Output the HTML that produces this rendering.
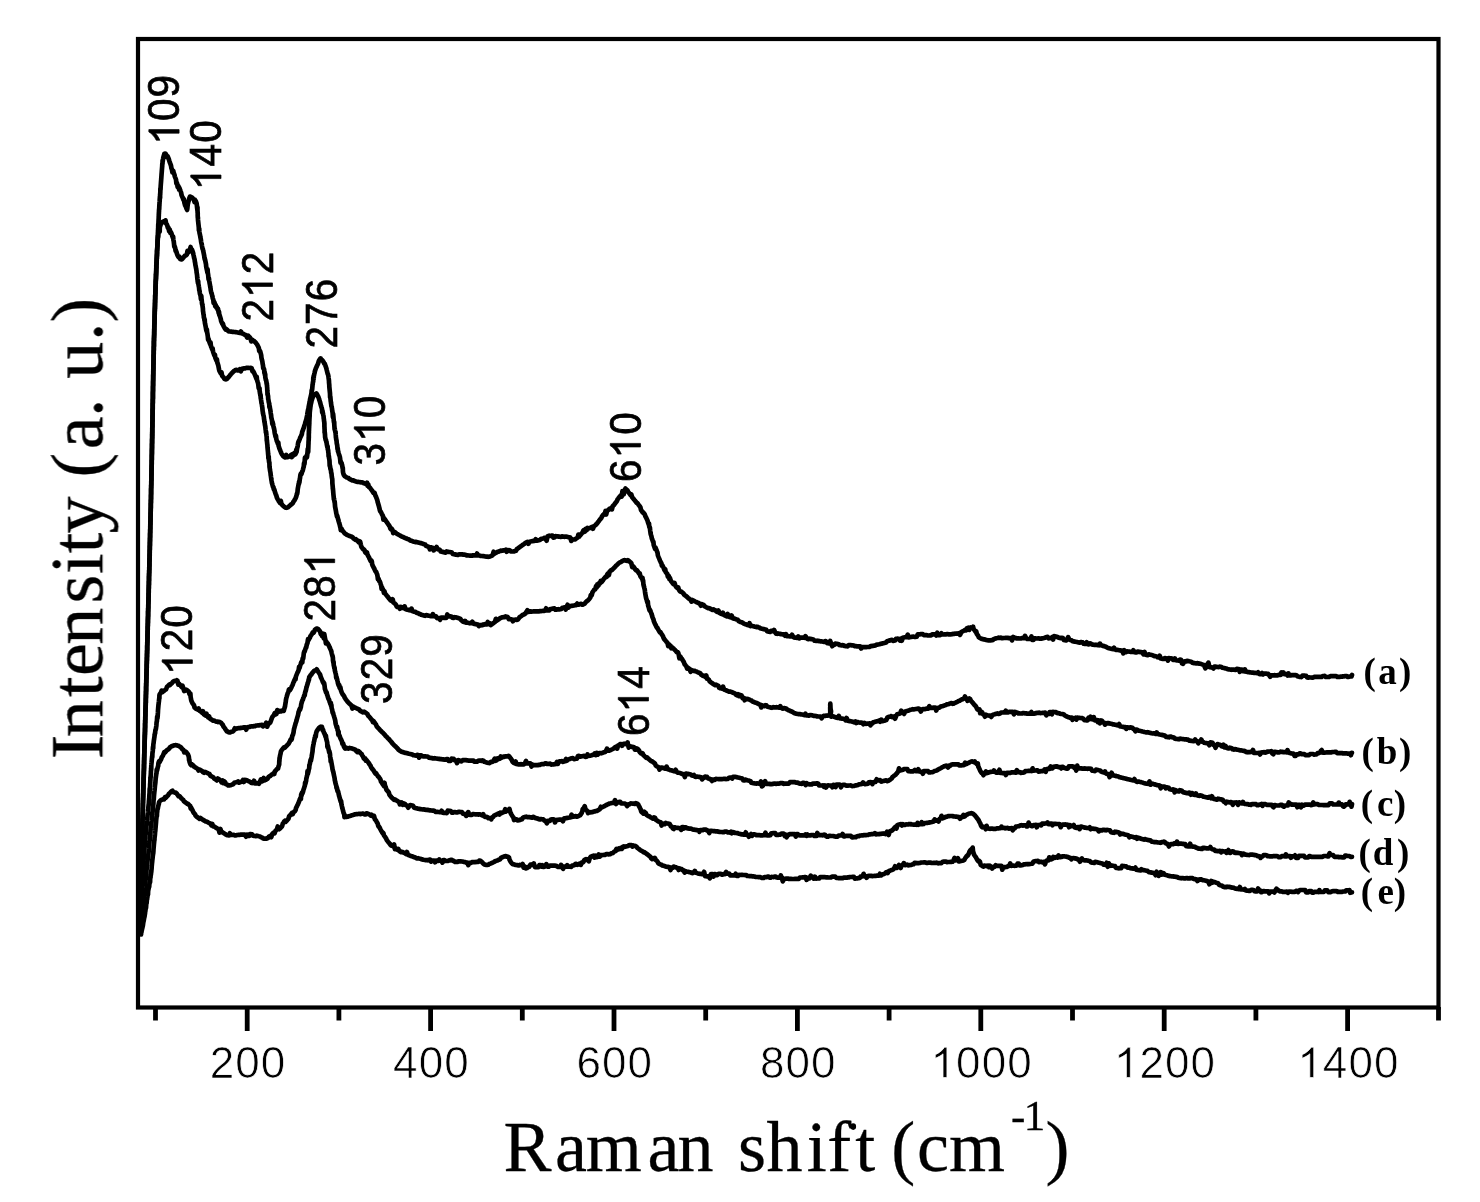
<!DOCTYPE html>
<html><head><meta charset="utf-8"><style>
html,body{margin:0;padding:0;background:#fff;}
body{width:1480px;height:1202px;overflow:hidden;}
svg{display:block;}
.sans{font-family:"Liberation Sans",sans-serif;font-size:44px;fill:#000;}
.pk{stroke:#000;stroke-width:0.7px;}
.tk{stroke:#fff;stroke-width:0.7px;}
.serif{font-family:"Liberation Serif",serif;font-size:72px;fill:#000;stroke:#000;stroke-width:0.3px;}
.lab{font-family:"Liberation Serif",serif;font-size:37px;font-weight:bold;fill:#000;}
</style></head><body>
<svg width="1480" height="1202" viewBox="0 0 1480 1202">
<defs><filter id="bl" x="0" y="0" width="100%" height="100%" filterUnits="userSpaceOnUse"><feGaussianBlur stdDeviation="0.7"/></filter></defs>
<rect x="0" y="0" width="1480" height="1202" fill="#fff"/>
<g filter="url(#bl)">
<g fill="none" stroke="#000" stroke-width="4.7" stroke-linejoin="round" stroke-linecap="round">
<polyline points="139.5,929.3 139.5,928.8 139.5,928.3 139.5,927.7 139.6,927.2 139.6,927.6 139.6,927.1 139.6,926.6 139.6,926.0 139.6,925.5 139.6,924.9 139.7,925.7 139.7,925.1 139.7,924.6 139.7,922.7 139.7,923.4 139.7,921.6 139.8,921.0 139.8,920.4 139.8,919.0 139.8,918.4 139.8,917.8 139.8,917.3 139.9,916.7 139.9,916.0 139.9,915.4 139.9,916.4 139.9,914.3 139.9,913.7 140.0,913.4 140.0,912.8 140.0,912.7 140.0,912.0 140.0,909.9 140.1,909.2 140.1,908.6 140.1,907.9 140.1,908.4 140.1,906.8 140.2,906.1 140.2,905.4 140.2,904.6 140.2,905.3 140.2,902.4 140.3,901.6 140.3,900.9 140.3,900.5 140.3,899.7 140.3,899.0 140.4,898.2 140.4,897.4 140.4,897.0 140.4,896.2 140.4,894.8 140.5,894.0 140.5,893.2 140.5,892.4 140.5,891.6 140.6,890.7 140.6,888.1 140.6,889.3 140.6,889.2 140.6,888.4 140.7,887.5 140.7,886.7 140.7,885.8 140.7,885.0 140.8,883.0 140.8,882.2 140.8,881.3 140.8,880.4 140.9,880.7 140.9,879.8 140.9,879.0 140.9,878.1 141.0,877.2 141.0,876.3 141.0,876.3 141.0,875.4 141.1,874.5 141.1,872.5 141.1,871.5 141.1,870.6 141.2,869.7 141.2,868.8 141.2,867.8 141.2,866.1 141.3,865.1 141.3,864.0 141.3,864.8 141.3,860.5 141.4,860.2 141.4,859.2 141.4,859.5 141.4,858.6 141.5,857.6 141.5,856.6 141.5,856.1 141.6,855.1 141.6,852.2 141.6,853.1 141.6,852.0 141.7,853.0 141.7,850.0 141.7,849.0 141.7,847.9 141.8,846.9 141.8,845.9 141.8,844.9 141.9,843.0 141.9,844.0 141.9,841.0 141.9,839.9 142.0,838.9 142.0,838.6 142.0,837.6 142.1,836.6 142.1,835.5 142.1,834.5 142.1,833.4 142.2,830.8 142.2,831.6 142.2,830.5 142.3,829.5 142.3,828.4 142.3,827.4 142.3,825.9 142.4,824.9 142.4,823.8 142.4,822.7 142.5,820.9 142.5,819.8 142.5,818.7 142.6,817.6 142.6,817.4 142.6,816.3 142.6,815.2 142.7,814.1 142.7,813.6 142.7,812.5 142.8,811.3 142.8,810.2 142.8,809.1 142.9,805.5 142.9,806.1 142.9,805.0 142.9,803.8 143.0,802.7 143.0,802.3 143.0,801.2 143.1,800.0 143.1,798.9 143.1,797.8 143.2,795.1 143.2,796.7 143.2,793.6 143.3,792.4 143.3,789.5 143.3,790.2 143.3,789.0 143.4,788.3 143.4,787.1 143.4,787.1 143.5,786.0 143.5,784.3 143.5,783.2 143.6,782.0 143.6,778.9 143.6,777.8 143.7,778.4 143.7,777.3 143.7,776.1 143.8,775.0 143.8,773.5 143.8,772.3 143.9,771.1 143.9,771.1 143.9,769.9 144.0,768.7 144.0,767.6 144.0,766.4 144.0,764.8 144.1,763.6 144.1,762.4 144.1,761.2 144.2,760.0 144.2,758.9 144.2,757.9 144.3,756.8 144.3,755.3 144.3,754.1 144.4,752.4 144.4,752.9 144.4,749.4 144.5,748.2 144.5,745.2 144.5,748.0 144.6,744.6 144.6,742.3 144.6,741.2 144.7,740.0 144.7,738.8 144.7,737.6 144.8,734.6 144.8,737.3 144.8,736.1 144.9,734.9 144.9,733.7 144.9,732.5 145.0,731.3 145.0,729.4 145.0,728.2 145.1,727.0 145.1,725.9 145.1,724.7 145.1,723.5 145.2,723.0 145.2,723.1 145.2,720.7 145.3,719.5 145.3,718.3 145.3,717.1 145.4,716.5 145.4,713.5 145.4,712.3 145.5,711.5 145.5,710.3 145.5,709.1 145.6,707.9 145.6,708.2 145.6,707.0 145.7,705.8 145.7,704.7 145.7,703.5 145.8,702.3 145.8,697.8 145.8,698.1 145.9,697.2 145.9,696.0 145.9,694.9 146.0,693.7 146.0,692.5 146.0,691.3 146.1,690.9 146.1,692.0 146.1,688.5 146.1,687.3 146.2,686.1 146.2,685.0 146.2,683.4 146.3,682.2 146.3,681.0 146.3,679.8 146.4,678.6 146.4,677.5 146.4,676.6 146.5,675.5 146.5,674.3 146.5,673.1 146.6,671.6 146.6,671.8 146.6,669.3 146.7,668.3 146.7,667.1 146.7,666.0 146.7,664.8 146.8,663.6 146.8,662.9 146.8,661.7 146.9,660.6 146.9,659.4 146.9,658.1 147.0,656.9 147.0,655.8 147.0,653.4 147.1,653.1 147.1,651.9 147.1,650.8 147.2,649.7 147.2,648.5 147.2,647.4 147.2,645.4 147.3,644.2 147.3,643.8 147.3,642.7 147.4,641.5 147.4,640.3 147.4,639.2 147.5,638.1 147.5,635.5 147.5,635.8 147.5,634.9 147.6,633.8 147.6,632.7 147.6,631.0 147.7,629.9 147.7,628.8 147.7,627.7 147.7,626.8 147.8,625.7 147.8,624.6 147.8,623.5 147.9,622.4 147.9,621.3 147.9,620.2 147.9,619.1 148.0,618.1 148.0,618.1 148.0,617.0 148.1,616.0 148.1,616.5 148.1,613.8 148.1,611.4 148.2,610.4 148.2,611.9 148.2,608.3 148.3,607.4 148.3,608.4 148.3,605.3 148.3,604.3 148.4,603.2 148.4,599.9 148.4,602.4 148.5,601.3 148.5,600.3 148.5,599.3 148.5,598.0 148.6,596.9 148.6,595.9 148.6,594.9 148.6,593.5 148.7,592.5 148.7,591.5 148.7,590.5 148.7,589.5 148.8,588.5 148.8,588.0 148.8,587.0 148.8,586.1 148.9,584.3 148.9,585.2 148.9,582.4 148.9,581.4 149.0,580.5 149.0,579.5 149.0,578.3 149.0,577.3 149.1,574.4 149.1,575.4 149.1,574.3 149.1,573.4 149.2,572.4 149.2,571.5 149.2,571.9 149.2,570.8 149.3,569.9 149.3,566.5 149.3,568.1 149.3,567.2 149.4,565.4 149.4,564.5 149.4,563.6 149.4,562.7 149.4,561.8 149.5,561.4 149.5,560.5 149.5,559.7 149.5,558.8 149.6,557.3 149.6,556.4 149.6,555.6 149.6,554.7 149.6,553.9 149.7,553.0 149.7,552.4 149.7,551.6 149.7,550.8 149.7,549.9 149.8,549.1 149.8,548.3 149.8,547.5 149.8,546.7 149.8,545.9 149.9,545.1 149.9,543.9 149.9,541.9 149.9,542.4 149.9,542.5 150.0,539.2 150.0,540.9 150.0,540.0 150.0,538.6 150.1,537.1 150.1,535.7 150.1,532.5 150.2,532.8 150.2,531.8 150.2,530.4 150.3,528.9 150.3,527.2 150.3,525.8 150.4,524.4 150.4,523.0 150.4,521.6 150.5,520.2 150.5,518.9 150.5,517.5 150.6,515.3 150.6,513.9 150.6,512.6 150.7,511.2 150.7,507.4 150.7,508.5 150.8,507.6 150.8,506.3 150.8,505.0 150.8,503.7 150.9,502.7 150.9,501.4 150.9,500.1 151.0,498.9 151.0,498.3 151.0,497.0 151.0,495.7 151.1,494.5 151.1,491.2 151.1,489.9 151.1,488.7 151.2,487.5 151.2,486.2 151.2,485.0 151.3,485.7 151.3,484.5 151.3,483.3 151.3,481.7 151.4,480.5 151.4,479.3 151.4,478.3 151.4,477.2 151.4,474.0 151.5,474.8 151.5,472.3 151.5,471.2 151.5,468.2 151.6,468.6 151.6,467.5 151.6,465.0 151.6,465.2 151.7,464.0 151.7,463.6 151.7,462.5 151.7,461.4 151.7,460.3 151.8,459.2 151.8,458.1 151.8,456.4 151.8,455.3 151.8,454.3 151.9,453.2 151.9,452.1 151.9,452.1 151.9,451.0 151.9,448.8 152.0,447.7 152.0,446.6 152.0,445.6 152.0,444.5 152.0,443.7 152.1,442.7 152.1,441.7 152.1,441.5 152.1,440.5 152.1,439.4 152.2,437.9 152.2,436.9 152.2,435.9 152.2,434.9 152.2,433.9 152.2,434.3 152.3,435.8 152.3,431.4 152.3,430.4 152.3,429.4 152.3,428.2 152.4,427.3 152.4,426.3 152.4,425.3 152.4,424.4 152.4,423.4 152.4,422.4 152.5,421.5 152.5,420.5 152.5,419.6 152.5,418.6 152.5,417.2 152.5,416.2 152.5,415.3 152.6,414.4 152.6,413.5 152.6,412.5 152.6,412.6 152.6,411.7 152.6,408.4 152.7,409.9 152.7,409.0 152.7,408.1 152.7,405.2 152.7,404.3 152.7,403.4 152.7,404.3 152.8,403.5 152.8,402.6 152.8,401.7 152.8,401.0 152.8,400.1 152.8,399.3 152.9,398.4 152.9,395.2 152.9,398.7 152.9,395.4 152.9,393.3 152.9,392.4 152.9,391.6 153.0,390.7 153.0,390.9 153.0,390.1 153.0,389.2 153.0,388.4 153.0,387.6 153.0,386.8 153.1,386.0 153.1,385.8 153.1,385.0 153.1,384.2 153.1,383.3 153.1,382.5 153.1,381.7 153.2,380.9 153.2,380.0 153.2,379.2 153.2,378.4 153.2,375.1 153.2,376.8 153.2,374.6 153.3,373.9 153.3,373.1 153.3,370.8 153.3,371.4 153.3,370.7 153.3,370.0 153.3,369.2 153.4,368.4 153.4,367.7 153.4,367.4 153.4,366.6 153.4,365.9 153.4,364.5 153.5,363.8 153.5,361.2 153.5,362.2 153.5,361.5 153.5,360.7 153.5,361.5 153.5,360.8 153.6,360.0 153.6,359.2 153.6,358.5 153.6,357.7 153.6,355.6 153.6,354.9 153.7,354.1 153.7,353.4 153.7,352.6 153.7,353.3 153.7,351.1 153.7,350.4 153.8,349.7 153.8,348.9 153.8,349.1 153.8,348.4 153.8,347.6 153.8,346.9 153.9,346.2 153.9,345.4 153.9,343.3 153.9,342.6 153.9,341.8 153.9,341.1 154.0,340.4 154.0,339.6 154.0,340.5 154.0,338.9 154.1,337.4 154.1,336.7 154.2,335.2 154.2,333.7 154.2,332.3 154.3,330.8 154.3,329.2 154.3,327.8 154.4,326.4 154.4,325.0 154.5,323.7 154.5,322.8 154.5,321.4 154.6,320.1 154.6,318.8 154.6,315.0 154.7,313.7 154.7,312.5 154.8,311.3 154.8,310.9 154.8,309.7 154.9,308.7 154.9,307.5 154.9,306.3 155.0,304.7 155.0,303.6 155.0,303.6 155.1,302.5 155.1,300.5 155.2,299.5 155.2,298.4 155.2,295.2 155.3,296.4 155.3,295.3 155.3,294.5 155.4,293.5 155.4,292.5 155.4,291.5 155.5,290.6 155.5,289.8 155.5,288.9 155.6,287.9 155.6,287.0 155.6,286.1 155.7,284.1 155.7,283.2 155.7,282.6 155.8,280.1 155.8,280.9 155.8,280.0 155.9,279.1 155.9,278.9 156.0,278.0 156.0,277.2 156.0,273.9 156.1,275.7 156.1,274.8 156.1,275.2 156.2,274.4 156.2,273.5 156.2,273.1 156.3,272.3 156.3,271.5 156.3,270.7 156.4,266.7 156.4,266.0 156.4,265.2 156.5,264.4 156.5,263.6 156.5,262.9 156.6,262.2 156.6,262.5 156.6,264.0 156.7,260.8 156.7,260.0 156.7,259.2 156.8,258.5 156.8,257.7 156.8,256.9 156.9,256.9 156.9,256.1 156.9,255.3 157.0,254.5 157.0,256.1 157.1,252.2 157.1,251.4 157.1,250.6 157.2,250.8 157.2,250.0 157.2,249.2 157.3,246.7 157.3,247.5 157.4,246.3 157.4,244.4 157.5,243.1 157.5,241.9 157.6,238.9 157.6,240.1 157.7,238.9 157.7,237.7 157.8,236.5 157.9,234.2 157.9,233.0 158.0,231.9 158.0,230.7 158.1,230.1 158.1,229.0 158.2,227.9 158.2,226.8 158.3,223.8 158.3,226.9 158.4,223.8 158.5,222.1 158.5,221.1 158.6,220.0 158.6,219.2 158.7,218.2 158.7,217.1 158.8,215.3 158.8,214.3 158.9,213.3 158.9,212.4 159.0,211.4 159.0,210.4 159.1,209.5 159.2,208.6 159.2,209.5 159.3,206.7 159.3,206.4 159.4,205.5 159.4,204.6 159.5,203.7 159.5,202.8 159.6,201.9 159.7,200.6 159.7,199.7 159.8,198.9 159.8,198.0 159.9,198.0 159.9,197.1 160.0,196.3 160.1,197.9 160.1,194.6 160.2,194.4 160.2,193.6 160.3,192.8 160.4,188.2 160.4,189.4 160.5,189.6 160.5,190.0 160.6,188.0 160.7,186.1 160.8,184.7 160.9,183.4 161.0,182.0 161.1,180.7 161.2,179.3 161.3,178.0 161.4,176.6 161.5,175.3 161.5,175.1 161.6,173.8 161.7,172.6 161.8,171.3 161.9,169.8 162.0,168.6 162.1,167.4 162.2,166.3 162.3,163.5 162.4,164.2 162.5,163.6 162.6,160.4 162.7,161.7 162.8,160.8 162.9,159.9 163.1,158.9 163.2,158.2 163.3,157.5 163.5,156.9 163.6,156.4 163.8,155.9 164.0,155.5 164.1,155.1 164.3,154.0 164.5,155.8 164.8,153.5 165.2,153.5 165.5,153.7 165.9,154.1 166.3,155.8 166.8,156.5 167.2,157.4 167.6,156.3 168.1,157.4 168.6,158.6 169.0,159.8 169.5,161.5 170.0,162.9 170.5,164.2 171.0,165.6 171.4,168.1 171.9,169.4 172.4,172.4 172.8,171.9 173.3,170.9 173.7,172.9 174.1,173.8 174.5,174.8 174.8,176.5 175.2,177.5 175.6,178.5 176.0,179.5 176.4,183.4 176.8,182.8 177.2,183.9 177.6,187.0 178.0,186.0 178.3,185.9 178.7,186.9 179.1,189.7 179.5,188.1 179.8,189.1 180.2,190.1 180.5,191.0 180.9,192.0 181.2,192.9 181.5,194.8 181.8,195.6 182.1,196.4 182.4,197.1 183.0,198.4 183.5,199.9 183.9,199.1 184.4,202.7 184.8,204.3 185.1,205.4 185.5,205.9 185.8,206.7 186.1,207.3 186.5,208.7 186.8,208.9 187.1,210.0 187.4,207.9 187.7,204.7 188.0,203.5 188.3,202.1 188.6,200.7 188.8,200.7 189.1,199.3 189.4,198.1 189.7,197.2 190.0,196.6 191.0,196.9 192.0,197.5 193.1,198.6 194.0,199.9 194.5,202.0 195.0,199.9 195.5,200.7 195.9,201.4 196.3,202.5 196.7,203.8 197.0,206.8 197.1,207.6 197.2,208.4 197.3,209.3 197.4,210.3 197.5,207.3 197.5,210.6 197.6,211.7 197.6,212.7 197.7,212.4 197.7,215.9 197.8,217.0 197.8,218.0 197.9,217.0 198.0,219.9 198.1,220.9 198.2,221.8 198.3,222.8 198.4,223.8 198.6,225.6 198.7,226.6 198.8,227.6 198.9,230.3 199.1,229.7 199.2,228.5 199.4,231.7 199.5,232.7 199.7,233.7 199.8,234.0 200.0,235.0 200.2,236.0 200.3,236.8 200.5,237.8 200.7,238.8 200.9,239.8 201.1,241.6 201.3,242.6 201.5,243.6 201.8,244.6 202.0,246.1 202.2,247.1 202.4,248.1 202.6,249.1 202.8,248.9 203.0,249.9 203.2,250.9 203.4,251.7 203.6,252.7 203.8,253.7 204.0,254.7 204.2,255.7 204.4,257.5 204.6,258.5 204.8,259.5 205.0,259.2 205.2,260.2 205.4,261.2 205.6,262.2 205.8,263.2 206.0,264.2 206.2,266.5 206.4,267.5 206.6,268.5 206.8,269.4 207.0,270.4 207.2,271.4 207.4,272.5 207.6,269.4 207.8,272.8 208.0,273.8 208.2,275.1 208.4,277.5 208.6,279.4 208.8,278.0 209.0,279.0 209.2,280.8 209.4,281.9 209.6,283.0 209.8,284.1 210.0,285.1 210.2,286.5 210.4,287.6 210.6,288.6 210.7,289.9 210.9,290.9 211.1,291.8 211.3,292.6 211.5,292.9 211.8,294.1 212.1,295.2 212.4,296.2 212.7,298.0 213.0,298.9 213.3,299.8 213.6,302.9 214.0,301.5 214.4,302.5 214.8,303.4 215.2,306.2 215.7,304.9 216.2,307.4 216.7,306.9 217.1,307.9 217.6,309.6 218.0,308.7 218.3,310.9 218.7,313.1 219.0,311.6 219.3,315.0 219.6,315.1 219.9,316.1 220.2,317.1 220.5,318.1 220.8,319.1 221.1,320.9 221.4,321.7 221.9,322.9 222.4,324.0 222.9,323.6 223.4,325.8 223.9,326.7 224.4,327.6 224.9,328.4 225.7,329.5 226.4,329.1 227.2,329.9 228.4,331.2 229.2,331.4 230.1,331.5 231.1,331.6 232.1,331.8 233.2,331.9 234.4,332.0 235.5,332.1 236.6,332.3 237.6,332.5 238.7,332.7 239.8,332.9 240.9,331.5 242.0,333.5 243.1,333.7 244.1,334.5 245.1,334.8 245.9,335.1 247.1,337.6 248.1,335.7 248.9,336.5 249.7,337.2 250.5,338.3 251.3,341.4 252.0,339.6 252.8,340.2 253.6,340.9 254.3,341.2 255.0,342.0 255.7,342.7 256.3,343.5 256.9,344.2 257.4,345.1 258.0,346.3 258.5,347.4 258.9,348.2 259.2,350.9 259.5,350.1 259.8,351.5 260.1,351.1 260.4,352.2 260.7,353.3 261.0,354.4 261.2,355.3 261.4,357.5 261.6,358.5 261.8,359.5 262.0,359.8 262.2,360.9 262.4,361.9 262.6,363.5 262.8,364.5 263.0,365.5 263.2,368.1 263.4,367.5 263.6,368.4 263.8,369.4 264.0,368.9 264.2,369.9 264.4,373.2 264.6,371.9 264.8,373.0 265.0,375.4 265.2,374.0 265.3,377.2 265.5,378.2 265.7,379.1 265.8,380.1 266.0,379.6 266.2,380.6 266.4,381.6 266.5,382.9 266.7,384.0 266.8,383.1 267.0,386.1 267.1,387.0 267.2,388.0 267.3,390.5 267.4,391.4 267.5,394.6 267.6,393.3 267.7,394.3 267.8,395.3 268.0,395.6 268.1,396.7 268.2,399.1 268.3,399.2 268.5,400.4 268.7,401.6 268.8,402.5 269.0,402.6 269.1,403.5 269.3,404.5 269.4,407.2 269.6,405.9 269.8,406.9 269.9,407.9 270.1,408.9 270.3,410.0 270.5,411.1 270.7,413.1 270.9,414.2 271.1,415.2 271.3,417.8 271.5,418.1 271.7,419.1 271.9,420.2 272.1,421.2 272.3,423.9 272.5,421.6 272.7,422.7 273.0,423.7 273.2,424.8 273.4,426.2 273.7,427.2 273.9,428.3 274.2,429.3 274.4,430.4 274.7,432.9 274.9,433.9 275.2,435.0 275.4,436.0 275.7,437.0 276.0,435.8 276.2,438.7 276.5,439.6 276.7,440.6 277.0,441.4 277.3,441.7 277.5,442.5 277.9,443.8 278.3,442.5 278.7,446.2 279.1,447.3 279.4,448.4 279.8,449.4 280.2,450.4 280.6,451.4 281.0,452.3 281.3,453.1 281.7,453.8 282.1,454.5 282.4,454.9 283.4,456.3 284.3,457.1 285.2,457.4 286.2,455.0 287.1,457.2 288.0,457.0 289.0,456.6 290.0,456.2 291.0,455.0 291.8,457.1 292.7,454.2 293.6,455.4 294.5,453.0 295.3,454.2 296.0,453.0 296.3,449.7 296.6,451.9 296.9,449.6 297.1,448.6 297.3,447.5 297.6,446.5 297.8,445.3 298.0,443.7 298.2,442.6 298.5,441.5 298.7,441.9 299.0,440.9 299.4,439.8 299.8,438.8 300.2,437.7 300.6,436.8 301.0,436.2 301.4,435.2 301.8,434.3 302.2,431.9 302.6,430.9 303.0,429.9 303.3,428.9 303.7,428.0 304.0,427.1 304.3,425.9 304.6,425.0 304.8,424.5 305.1,423.5 305.4,422.5 305.7,421.4 306.0,420.2 306.2,419.9 306.4,419.0 306.6,418.0 306.8,417.1 307.0,416.1 307.2,415.1 307.4,413.4 307.6,412.3 307.8,411.3 308.0,410.2 308.2,409.2 308.4,410.3 308.6,407.3 308.8,406.3 309.0,405.2 309.2,404.2 309.4,403.2 309.6,401.6 309.8,402.6 310.0,399.6 310.2,398.6 310.5,397.6 310.7,396.6 310.9,396.0 311.1,395.0 311.3,394.0 311.5,393.0 311.7,390.1 311.8,391.0 312.0,390.0 312.2,389.0 312.3,387.8 312.4,386.7 312.6,384.3 312.7,384.6 312.8,383.5 312.9,382.4 313.1,381.4 313.2,381.6 313.3,377.5 313.4,379.0 313.6,376.1 313.7,378.9 313.8,376.3 314.0,375.5 314.3,373.9 314.6,372.8 314.9,371.3 315.2,370.3 315.5,369.4 315.8,368.5 316.2,367.6 316.6,366.7 317.0,365.8 317.5,364.8 318.1,363.5 318.7,361.3 319.3,360.1 320.0,359.1 320.6,358.4 321.3,359.7 322.0,359.9 322.4,360.3 322.7,360.7 323.1,361.3 323.5,362.0 323.9,362.9 324.4,363.8 324.8,363.9 325.2,365.0 325.6,366.1 326.0,367.2 326.4,368.4 326.8,370.3 327.1,371.5 327.4,372.7 327.7,373.9 328.0,374.4 328.2,375.3 328.4,376.2 328.5,377.1 328.6,378.1 328.8,379.3 328.9,380.3 329.0,381.3 329.0,382.3 329.1,383.3 329.2,384.3 329.3,385.3 329.3,386.6 329.4,387.6 329.5,388.6 329.5,388.4 329.6,389.4 329.7,390.4 329.8,391.5 329.9,392.5 330.0,393.5 330.1,397.4 330.3,396.4 330.4,397.4 330.6,399.9 330.7,401.0 330.9,402.0 331.0,403.1 331.2,404.4 331.3,405.5 331.5,406.5 331.7,406.5 331.8,407.6 332.0,408.6 332.1,409.7 332.3,410.7 332.4,411.7 332.6,412.6 332.7,414.0 332.9,417.1 333.0,413.5 333.2,414.6 333.3,415.7 333.4,416.8 333.6,419.1 333.7,420.1 333.8,421.0 333.9,421.9 334.1,422.9 334.2,421.8 334.3,425.3 334.4,426.2 334.6,429.3 334.7,428.3 334.8,429.3 335.0,430.5 335.1,430.7 335.3,431.6 335.4,432.5 335.5,431.5 335.7,434.5 335.8,435.6 335.9,437.2 336.1,438.2 336.2,439.3 336.4,440.3 336.5,440.2 336.7,442.6 336.8,443.7 337.0,444.2 337.2,445.2 337.3,446.2 337.5,449.2 337.7,448.1 337.8,449.1 338.0,451.5 338.2,451.4 338.5,452.6 338.8,453.6 339.0,454.7 339.3,455.1 339.6,456.1 339.9,457.1 340.2,459.4 340.5,462.7 340.8,461.4 341.1,462.3 341.3,463.2 341.6,463.1 341.8,464.0 342.0,464.9 342.3,466.1 342.5,467.3 342.6,468.4 342.8,467.8 342.9,471.1 343.0,472.0 343.2,473.0 343.4,473.8 343.7,474.5 344.0,475.2 344.7,476.2 345.5,476.6 346.3,477.2 347.3,477.6 348.4,478.0 349.5,479.1 350.3,479.4 351.2,479.9 352.1,480.3 353.0,480.3 354.0,480.7 355.0,481.1 356.0,481.5 357.0,481.8 358.0,481.8 359.0,482.0 360.0,482.2 361.0,482.3 362.0,482.4 363.0,482.5 364.0,483.3 365.0,483.6 366.0,484.0 367.0,482.7 367.6,485.7 368.3,484.6 368.9,487.0 369.6,487.3 370.2,488.0 370.9,489.1 371.5,489.9 372.2,490.8 372.8,491.8 373.4,492.8 374.0,492.5 374.6,492.9 375.2,495.1 375.7,496.1 376.1,496.9 376.4,497.9 376.8,498.8 377.1,499.7 377.4,500.6 377.6,501.8 377.9,502.8 378.2,503.8 378.4,504.5 378.7,505.5 379.0,506.5 379.2,507.5 379.5,508.5 379.9,510.4 380.2,511.4 380.6,511.3 381.0,512.3 381.5,513.3 381.9,514.1 382.4,515.0 382.9,515.9 383.4,519.7 383.9,518.0 384.4,518.9 385.0,519.5 385.5,520.4 386.1,521.3 386.7,522.0 387.3,522.9 387.9,523.8 388.5,524.7 389.1,525.5 389.7,526.3 390.3,528.5 390.9,529.2 391.5,528.5 392.1,529.2 392.6,530.2 393.2,533.1 394.1,531.7 394.9,532.2 395.8,532.9 396.6,533.6 397.4,534.0 398.2,534.5 399.1,535.0 399.9,535.4 400.8,536.0 401.7,536.5 402.7,536.9 403.7,537.3 404.8,537.8 405.6,538.2 406.5,538.5 407.4,538.9 408.3,539.2 409.2,539.6 410.2,540.5 411.2,540.8 412.2,541.1 413.2,541.5 414.2,541.8 415.2,542.1 416.3,541.9 417.3,542.2 418.3,542.5 419.3,542.8 420.3,543.1 421.3,543.2 422.3,543.6 423.3,543.9 424.2,544.2 425.2,544.5 426.1,545.9 427.1,546.3 428.0,546.6 428.9,546.9 429.9,549.4 430.8,547.3 431.8,547.6 432.7,547.8 433.7,550.4 434.7,548.3 435.6,548.6 436.6,547.0 437.6,549.2 438.7,549.5 439.7,549.8 440.7,551.4 441.6,551.6 442.6,551.9 443.6,552.1 444.6,552.4 445.6,552.6 446.6,551.4 447.6,551.7 448.7,551.9 449.7,552.0 450.8,552.2 451.8,552.5 452.8,554.0 453.9,554.2 454.9,554.4 456.0,554.6 457.0,554.8 458.0,554.9 459.1,554.3 460.1,554.5 461.1,554.3 462.2,554.4 463.3,554.6 464.4,554.7 465.5,554.8 466.6,555.4 467.7,555.4 468.8,555.5 469.9,555.6 471.0,555.6 472.1,555.7 473.1,555.3 474.2,555.3 475.2,555.3 476.2,555.4 477.1,553.5 478.0,555.4 478.9,555.5 479.7,555.5 480.5,555.9 482.0,556.0 483.3,556.1 484.4,556.3 485.3,556.5 486.2,556.6 487.0,556.6 487.9,556.8 488.9,556.7 490.0,556.4 490.9,556.1 491.8,555.8 492.7,555.3 493.6,551.7 494.6,553.6 495.6,553.0 496.6,552.4 497.6,551.8 498.6,551.7 499.6,551.2 500.5,550.7 501.5,550.8 502.5,550.6 503.5,550.4 504.6,550.3 505.6,549.8 506.7,551.7 507.7,550.0 508.8,550.2 509.8,550.3 510.8,551.4 511.9,551.5 512.9,551.5 514.0,551.4 515.0,551.1 515.9,550.8 516.8,549.1 517.7,548.6 518.5,548.1 519.4,547.3 520.3,546.6 521.2,546.0 522.1,545.4 523.0,544.7 523.9,544.1 524.7,543.5 525.6,542.9 526.5,542.4 527.4,542.0 528.4,543.8 529.5,541.7 530.5,541.5 531.6,541.3 532.6,541.1 533.6,540.9 534.7,540.8 535.7,539.2 536.8,540.6 537.8,540.4 538.9,540.2 539.9,540.0 540.9,539.1 541.8,538.8 542.8,538.5 543.7,538.2 544.7,537.8 545.7,538.9 546.6,540.7 547.6,536.2 548.6,535.9 549.5,535.7 550.5,535.9 551.4,535.7 552.4,535.6 553.4,537.6 554.5,537.5 555.6,536.2 556.6,536.3 557.7,536.4 558.7,536.6 559.8,536.7 560.8,536.9 561.9,536.4 562.9,536.6 563.9,536.7 564.9,536.8 566.0,536.6 567.0,536.8 568.1,537.1 569.2,537.3 570.2,537.6 571.3,540.9 572.3,539.4 573.3,539.5 574.2,539.5 575.2,539.4 576.1,538.5 576.9,538.1 577.7,537.6 578.4,534.6 579.1,536.6 579.8,535.8 580.5,535.0 581.2,534.1 581.9,533.2 582.6,532.4 583.3,530.7 584.0,530.0 584.8,531.7 585.7,528.8 586.5,530.3 587.4,527.9 588.3,528.5 589.3,528.2 590.2,527.8 591.1,527.4 592.0,527.0 593.0,528.8 593.9,526.3 594.8,525.6 595.5,525.1 596.1,524.4 596.8,523.8 597.5,522.8 598.1,522.0 598.8,521.2 599.5,520.2 600.1,519.4 600.8,518.6 601.5,517.7 602.1,516.2 602.8,515.4 603.5,514.6 604.1,513.8 604.8,514.0 605.5,511.0 606.2,514.5 606.9,511.4 607.6,510.7 608.3,510.0 609.0,509.3 609.8,508.6 610.5,508.7 611.2,508.0 611.9,509.4 612.6,506.4 613.3,505.6 614.1,504.9 614.8,503.7 615.5,502.9 616.1,502.1 616.8,501.3 617.5,499.5 618.2,498.6 618.9,497.6 619.6,496.7 620.4,495.8 621.1,495.1 621.7,496.5 622.4,491.2 623.1,492.7 623.7,494.4 624.3,490.9 624.9,490.5 625.5,488.4 626.5,490.0 627.4,490.3 628.2,492.0 629.0,492.8 629.7,493.8 630.5,495.1 631.3,494.5 632.2,497.3 632.8,498.0 633.4,498.7 634.0,499.4 634.6,500.2 635.2,500.9 635.9,501.8 636.6,502.7 637.2,502.9 637.9,503.8 638.5,504.7 639.2,505.5 639.8,506.4 640.4,507.3 641.0,509.9 641.5,510.7 642.1,511.5 642.6,512.4 643.2,512.4 643.7,513.3 644.2,513.6 644.8,514.5 645.3,516.1 645.8,517.0 646.3,517.9 646.7,518.9 647.2,519.8 647.6,520.8 648.0,522.5 648.4,523.5 648.7,524.4 649.0,523.4 649.2,526.3 649.4,527.2 649.6,526.9 649.8,527.8 649.9,527.5 650.1,529.7 650.2,530.8 650.4,531.9 650.5,532.9 650.7,534.0 651.0,535.0 651.2,535.6 651.5,536.7 651.8,538.2 652.2,539.4 652.5,540.2 652.8,541.1 653.1,542.0 653.4,541.8 653.7,544.9 654.0,545.8 654.4,546.8 654.7,547.8 655.1,548.8 655.5,547.5 655.9,548.5 656.3,549.5 656.7,550.5 657.1,551.6 657.5,552.6 657.9,555.5 658.3,556.5 658.7,557.5 659.2,558.7 659.6,559.7 660.0,560.7 660.5,561.6 660.9,562.6 661.3,562.9 661.8,565.5 662.2,565.1 662.7,566.0 663.2,567.0 663.7,568.0 664.2,569.4 664.7,570.4 665.2,569.1 665.7,572.2 666.2,572.6 666.8,573.5 667.3,573.8 667.8,576.7 668.4,575.5 668.9,576.4 669.4,579.2 670.0,578.1 670.6,580.1 671.1,581.0 671.7,581.8 672.3,582.6 672.8,583.3 673.4,584.1 674.0,583.8 674.6,583.1 675.3,585.3 676.0,586.6 676.7,587.4 677.4,588.1 678.2,587.5 678.9,589.7 679.7,590.9 680.4,591.7 681.2,591.5 681.9,592.2 682.7,592.8 683.5,593.5 684.2,594.7 685.0,595.3 685.8,595.9 686.6,596.5 687.3,597.1 688.1,598.0 688.8,598.6 689.6,599.1 690.5,599.7 691.5,601.6 692.4,600.0 693.4,600.5 694.3,601.0 695.2,601.5 696.2,602.0 697.1,602.4 698.0,602.8 699.0,603.2 699.9,603.7 700.9,605.7 701.8,604.1 702.7,604.6 703.7,605.0 704.6,606.3 705.5,606.8 706.4,607.3 707.3,607.7 708.2,608.2 709.0,608.1 709.9,608.5 710.7,609.0 711.6,609.4 712.5,609.9 713.4,609.4 714.3,609.9 715.3,610.3 716.3,611.3 717.3,611.8 718.4,610.5 719.5,613.0 720.3,613.4 721.2,613.8 722.0,614.1 722.9,612.8 723.8,614.9 724.8,615.4 725.7,615.8 726.7,616.2 727.6,614.0 728.6,616.4 729.6,617.0 730.6,617.4 731.6,615.5 732.7,618.2 733.7,618.6 734.7,618.7 735.7,619.1 736.7,619.5 737.7,619.8 738.7,621.3 739.7,621.6 740.6,622.0 741.6,622.3 742.6,622.7 743.6,623.5 744.6,623.9 745.6,624.2 746.5,624.6 747.5,625.0 748.5,625.3 749.5,623.2 750.5,626.0 751.4,625.6 752.4,626.0 753.4,626.3 754.4,626.6 755.4,626.8 756.3,627.1 757.3,626.8 758.3,627.2 759.3,627.5 760.3,628.2 761.2,628.5 762.2,628.8 763.2,629.1 764.2,629.2 765.2,629.5 766.2,629.8 767.1,631.2 768.1,631.5 769.1,631.8 770.1,632.0 771.1,630.8 772.1,631.1 773.1,631.3 774.1,629.9 775.0,631.8 776.0,633.6 777.0,633.8 778.0,633.4 779.0,633.7 780.0,633.9 781.0,634.1 781.9,634.3 782.9,634.5 783.9,634.3 784.9,635.7 785.9,634.1 787.0,636.1 788.0,636.0 789.0,636.2 790.0,636.4 791.1,636.4 792.1,634.7 793.1,636.7 794.2,637.4 795.2,637.6 796.2,637.8 797.2,638.0 798.3,636.4 799.3,638.3 800.3,637.5 801.4,637.6 802.4,637.5 803.4,637.6 804.4,637.8 805.5,636.1 806.5,638.1 807.5,638.9 808.5,639.1 809.4,638.7 810.4,638.9 811.4,639.1 812.4,639.3 813.4,639.5 814.4,640.6 815.3,640.8 816.3,641.0 817.3,640.7 818.3,640.9 819.3,641.1 820.2,641.3 821.2,641.3 822.2,641.5 823.2,641.7 824.2,641.9 825.2,641.1 826.1,641.3 827.1,643.1 828.1,643.2 829.1,643.4 830.2,641.0 831.2,643.8 832.2,646.2 833.2,644.6 834.3,644.8 835.3,643.5 836.3,643.7 837.4,643.9 838.4,644.0 839.4,645.0 840.4,645.2 841.5,645.3 842.5,645.2 843.5,645.3 844.6,646.0 845.6,646.1 846.6,646.2 847.6,646.3 848.7,645.1 849.7,645.2 850.7,645.2 851.8,645.3 852.8,645.4 853.8,645.5 854.9,646.2 855.9,646.2 856.9,646.3 858.0,646.3 859.0,646.3 860.0,646.3 861.1,648.5 862.1,647.2 863.1,647.2 864.2,647.2 865.2,647.2 866.2,647.1 867.3,647.0 868.3,647.0 869.3,646.9 870.4,646.2 871.4,646.1 872.4,645.9 873.4,645.8 874.4,645.6 875.3,645.4 876.3,644.8 877.3,644.6 878.3,644.5 879.3,644.3 880.2,644.0 881.2,643.7 882.2,643.6 883.2,643.3 884.2,643.0 885.1,642.7 886.1,642.4 887.1,641.2 888.1,640.9 889.1,640.6 890.1,640.4 891.0,640.1 892.0,639.9 893.0,640.9 894.0,640.7 895.0,640.5 895.9,638.9 896.9,638.7 897.9,638.5 898.9,639.3 899.9,640.4 900.9,638.8 901.8,640.7 902.8,637.8 903.8,637.5 904.8,637.3 905.8,637.1 906.7,636.9 907.7,634.6 908.7,637.4 909.7,637.2 910.7,637.0 911.7,636.8 912.6,636.7 913.6,636.5 914.6,637.0 915.6,636.8 916.7,636.7 917.7,634.4 918.7,634.3 919.7,634.3 920.8,634.2 921.8,634.2 922.8,634.1 923.9,635.2 924.9,635.2 925.9,635.2 926.9,635.2 928.0,635.5 929.0,635.5 930.0,635.4 931.1,635.4 932.1,634.4 933.1,634.4 934.1,634.4 935.2,634.3 936.2,635.4 937.2,632.8 938.3,635.2 939.4,635.1 940.4,635.1 941.5,633.3 942.6,634.5 943.7,634.5 944.8,634.4 945.9,634.3 947.0,634.2 948.1,634.2 949.1,634.5 950.2,634.4 951.2,634.3 952.3,634.1 953.3,633.9 954.2,633.8 955.2,633.7 956.1,633.5 957.0,633.7 957.8,633.6 959.0,633.2 960.1,634.9 961.2,632.3 962.3,631.6 963.3,631.0 964.2,630.5 965.1,629.9 966.0,630.4 966.8,628.4 967.6,628.0 968.5,627.7 969.2,629.9 970.0,627.7 970.8,627.8 971.6,627.3 972.4,627.8 973.1,626.8 973.7,629.2 974.4,630.0 975.0,630.9 975.6,631.9 976.2,631.3 976.8,633.9 977.4,634.8 978.1,635.6 978.8,637.2 979.5,637.8 980.4,638.3 981.3,638.8 982.3,638.9 983.3,639.3 984.3,639.4 985.3,639.6 986.3,640.0 987.3,640.2 988.3,640.3 989.3,640.4 990.3,640.5 991.2,640.2 992.1,640.1 993.0,639.9 993.8,639.0 994.6,638.8 995.5,638.5 996.4,638.2 997.4,638.0 998.5,637.7 999.7,637.8 1001.1,637.7 1001.9,638.2 1002.8,638.1 1003.7,638.0 1004.6,638.0 1005.6,637.9 1006.6,637.9 1007.7,637.9 1008.7,638.1 1009.8,638.1 1010.9,638.1 1012.1,640.4 1013.2,636.9 1014.3,637.8 1015.4,637.8 1016.5,638.4 1017.6,638.4 1018.7,638.4 1019.7,638.5 1020.8,638.5 1021.8,638.1 1022.7,638.1 1023.8,638.1 1025.0,635.9 1026.1,638.1 1027.2,639.0 1028.3,639.0 1029.3,639.0 1030.4,639.0 1031.4,636.5 1032.4,640.0 1033.4,640.0 1034.4,638.4 1035.4,638.4 1036.4,638.5 1037.3,638.5 1038.2,638.4 1039.1,638.4 1040.0,638.7 1041.2,638.6 1042.2,638.4 1043.2,638.2 1044.1,638.0 1045.0,637.8 1045.8,637.3 1046.7,637.1 1047.6,636.9 1048.6,638.3 1049.7,638.2 1050.9,638.2 1052.3,637.0 1053.1,639.6 1054.0,636.2 1054.8,636.3 1055.7,636.5 1056.7,636.9 1057.7,637.1 1058.7,637.7 1059.7,637.9 1060.7,638.1 1061.8,637.9 1062.8,638.1 1063.9,639.9 1065.0,640.2 1066.1,640.4 1067.2,639.1 1068.2,637.1 1069.3,639.6 1070.4,640.0 1071.5,640.3 1072.5,641.2 1073.6,641.4 1074.6,641.6 1075.6,641.8 1076.6,642.0 1077.6,642.1 1078.7,642.5 1079.7,642.7 1080.7,642.1 1081.7,642.2 1082.7,642.4 1083.7,643.7 1084.7,643.8 1085.8,644.0 1086.8,642.2 1087.8,644.2 1088.8,644.4 1089.8,643.4 1090.8,643.6 1091.8,644.4 1092.8,644.6 1093.9,644.8 1094.9,644.9 1095.9,644.7 1096.9,644.9 1097.9,645.1 1098.9,645.3 1099.9,643.6 1101.0,645.3 1102.0,645.6 1103.0,645.9 1104.0,646.1 1105.0,646.4 1106.0,646.7 1107.0,647.6 1108.1,647.9 1109.1,648.2 1110.1,648.5 1111.1,648.7 1112.1,649.0 1113.1,649.1 1114.1,647.8 1115.1,649.6 1116.2,649.9 1117.2,649.8 1118.2,650.0 1119.2,650.2 1120.2,650.4 1121.2,650.6 1122.2,650.7 1123.3,653.4 1124.3,650.2 1125.3,651.9 1126.3,652.1 1127.3,651.4 1128.3,651.5 1129.3,651.6 1130.3,651.8 1131.4,651.9 1132.4,652.0 1133.4,650.2 1134.4,652.2 1135.4,652.3 1136.4,652.4 1137.4,651.6 1138.5,651.7 1139.5,651.9 1140.5,652.1 1141.5,652.2 1142.5,652.4 1143.5,654.3 1144.5,652.0 1145.6,654.7 1146.6,654.9 1147.6,655.1 1148.6,654.3 1149.6,654.6 1150.6,654.8 1151.6,655.0 1152.7,655.2 1153.7,655.9 1154.7,656.1 1155.7,656.3 1156.7,656.5 1157.7,657.3 1158.7,657.5 1159.7,655.8 1160.8,658.5 1161.8,658.7 1162.8,658.9 1163.8,659.0 1164.8,658.1 1165.8,658.3 1166.8,658.5 1167.9,660.6 1168.9,658.2 1169.9,658.3 1170.9,658.4 1171.9,658.6 1172.9,659.8 1173.9,659.9 1174.9,658.5 1176.0,660.2 1177.0,660.4 1178.0,660.5 1179.0,660.7 1180.0,659.5 1181.0,659.7 1182.0,663.3 1183.1,663.8 1184.1,661.5 1185.1,661.3 1186.1,661.5 1187.1,660.8 1188.1,661.0 1189.1,661.3 1190.2,661.5 1191.2,661.7 1192.2,662.7 1193.2,662.9 1194.2,663.1 1195.2,663.3 1196.2,663.5 1197.2,663.1 1198.3,663.4 1199.3,663.6 1200.3,663.8 1201.3,664.0 1202.3,664.5 1203.3,664.7 1204.3,665.8 1205.4,668.4 1206.4,666.6 1207.4,664.3 1208.4,662.6 1209.4,667.1 1210.4,667.2 1211.4,667.4 1212.5,667.6 1213.5,668.5 1214.5,666.6 1215.5,666.7 1216.5,666.8 1217.5,667.0 1218.5,667.1 1219.6,666.7 1220.6,666.8 1221.6,667.0 1222.6,667.8 1223.6,668.0 1224.6,668.1 1225.6,668.5 1226.6,668.6 1227.7,669.2 1228.7,669.3 1229.7,669.5 1230.7,669.6 1231.7,669.8 1232.7,669.5 1233.7,669.6 1234.8,669.8 1235.8,669.9 1236.8,668.8 1237.8,669.0 1238.8,669.1 1239.8,671.9 1240.8,669.5 1241.8,669.6 1242.9,671.1 1243.9,671.3 1244.9,669.4 1245.9,671.6 1246.9,671.7 1247.9,672.1 1248.9,672.2 1250.0,672.3 1251.0,672.5 1252.0,672.6 1253.0,672.7 1254.0,672.8 1255.0,672.9 1256.0,673.0 1257.1,673.1 1258.1,672.2 1259.1,673.9 1260.1,674.1 1261.1,674.2 1262.1,673.0 1263.1,674.4 1264.2,673.5 1265.2,673.6 1266.2,673.7 1267.2,673.8 1268.2,673.9 1269.2,675.2 1270.2,676.8 1271.2,675.3 1272.3,675.4 1273.3,675.5 1274.3,675.2 1275.3,675.3 1276.3,675.4 1277.3,675.5 1278.3,674.9 1279.4,674.9 1280.4,675.0 1281.4,672.4 1282.4,674.0 1283.4,672.5 1284.4,674.1 1285.4,674.2 1286.4,674.2 1287.5,675.4 1288.5,673.4 1289.5,675.5 1290.5,675.5 1291.5,675.1 1292.5,675.1 1293.5,675.1 1294.6,675.2 1295.6,675.2 1296.6,675.3 1297.6,676.4 1298.6,676.5 1299.6,677.0 1300.6,677.0 1301.5,677.1 1302.5,675.5 1303.4,675.6 1304.4,675.6 1305.3,675.8 1306.2,675.9 1307.2,677.5 1308.1,677.6 1309.1,677.4 1310.1,677.5 1311.1,677.5 1312.1,677.6 1313.1,677.6 1314.2,676.8 1315.2,676.9 1316.4,676.8 1317.5,676.8 1318.7,676.8 1319.9,676.8 1320.8,676.8 1321.7,676.8 1322.7,676.0 1323.7,676.0 1324.7,675.9 1325.8,677.0 1326.9,677.0 1328.0,677.0 1329.1,676.9 1330.3,676.2 1331.5,676.2 1332.6,676.2 1333.8,676.1 1335.0,676.1 1336.2,676.0 1337.3,676.9 1338.5,676.8 1339.7,676.8 1340.8,676.7 1341.9,676.7 1343.0,676.3 1344.0,676.3 1345.0,676.2 1346.0,676.2 1346.9,676.1 1347.8,677.0 1348.7,676.9 1349.5,676.6 1350.2,676.5 1350.9,676.5 1351.5,676.5 1352.0,675.0"/>
<polyline points="139.5,929.1 139.5,930.5 139.5,928.1 139.5,927.6 139.6,928.1 139.6,925.0 139.6,927.0 139.6,926.5 139.6,925.9 139.6,925.4 139.6,924.9 139.7,924.3 139.7,921.4 139.7,923.2 139.7,923.1 139.7,922.5 139.7,921.9 139.8,921.1 139.8,920.5 139.8,919.9 139.8,919.2 139.8,918.5 139.8,918.2 139.9,917.6 139.9,916.9 139.9,916.3 139.9,913.1 139.9,915.0 139.9,914.0 140.0,913.3 140.0,912.7 140.0,912.0 140.0,910.9 140.0,910.2 140.1,909.5 140.1,910.0 140.1,908.6 140.1,907.9 140.1,905.9 140.2,905.2 140.2,905.9 140.2,907.0 140.2,903.0 140.2,902.2 140.3,901.5 140.3,900.7 140.3,900.0 140.3,899.2 140.3,898.6 140.4,897.8 140.4,897.1 140.4,899.4 140.4,896.1 140.4,895.3 140.5,894.5 140.5,893.7 140.5,892.9 140.5,891.6 140.6,890.8 140.6,890.3 140.6,889.4 140.6,888.6 140.6,887.8 140.7,887.1 140.7,886.2 140.7,885.4 140.7,884.5 140.8,883.7 140.8,882.8 140.8,881.1 140.8,880.3 140.9,880.4 140.9,879.6 140.9,878.7 140.9,877.8 141.0,876.9 141.0,873.8 141.0,875.7 141.0,874.8 141.1,873.9 141.1,875.2 141.1,872.0 141.1,871.2 141.2,870.3 141.2,869.3 141.2,868.4 141.2,867.4 141.3,866.5 141.3,864.4 141.3,863.4 141.3,862.5 141.4,862.0 141.4,861.1 141.4,860.1 141.4,859.1 141.5,858.1 141.5,856.4 141.5,855.4 141.6,854.4 141.6,853.5 141.6,852.5 141.6,851.5 141.7,852.3 141.7,851.3 141.7,848.9 141.7,847.9 141.8,846.7 141.8,845.7 141.8,844.7 141.9,843.8 141.9,842.8 141.9,843.6 141.9,840.8 142.0,839.7 142.0,840.6 142.0,837.9 142.1,836.8 142.1,835.5 142.1,834.4 142.1,833.4 142.2,833.2 142.2,832.2 142.2,831.1 142.3,830.0 142.3,829.0 142.3,828.2 142.3,827.1 142.4,826.1 142.4,825.0 142.4,823.9 142.5,822.2 142.5,821.1 142.5,819.1 142.6,818.0 142.6,816.9 142.6,815.8 142.6,816.1 142.7,815.0 142.7,813.9 142.7,814.4 142.8,811.7 142.8,809.3 142.8,808.2 142.9,807.1 142.9,806.0 142.9,804.9 142.9,803.8 143.0,802.8 143.0,801.7 143.0,800.5 143.1,799.4 143.1,798.3 143.1,798.5 143.2,797.4 143.2,796.3 143.2,793.7 143.3,795.1 143.3,791.4 143.3,790.3 143.3,789.9 143.4,788.7 143.4,787.6 143.4,784.2 143.5,784.6 143.5,784.3 143.5,783.1 143.6,780.3 143.6,779.1 143.6,777.9 143.7,776.7 143.7,775.6 143.7,774.4 143.8,773.7 143.8,772.5 143.8,771.4 143.9,770.2 143.9,770.3 143.9,768.7 144.0,767.5 144.0,766.3 144.0,766.1 144.0,764.9 144.1,763.7 144.1,760.9 144.1,761.4 144.2,756.7 144.2,757.9 144.2,754.7 144.3,755.5 144.3,754.4 144.3,753.0 144.4,751.8 144.4,750.6 144.4,749.4 144.5,748.2 144.5,747.0 144.5,747.3 144.6,746.1 144.6,744.9 144.6,743.8 144.7,740.6 144.7,740.8 144.7,739.6 144.8,738.4 144.8,736.5 144.8,735.3 144.9,734.1 144.9,732.9 144.9,733.4 145.0,731.6 145.0,730.4 145.0,729.2 145.1,728.0 145.1,726.8 145.1,725.6 145.1,724.0 145.2,722.8 145.2,721.6 145.2,720.4 145.3,719.2 145.3,718.0 145.3,716.5 145.4,715.3 145.4,714.1 145.4,712.9 145.5,711.6 145.5,710.4 145.5,709.2 145.6,708.0 145.6,706.8 145.6,705.6 145.7,704.5 145.7,703.3 145.7,702.1 145.8,703.0 145.8,700.7 145.8,699.5 145.9,697.9 145.9,696.7 145.9,695.5 146.0,694.3 146.0,693.1 146.0,691.8 146.1,690.6 146.1,689.4 146.1,687.6 146.1,686.4 146.2,685.3 146.2,685.0 146.2,683.8 146.3,682.6 146.3,681.5 146.3,680.3 146.4,678.3 146.4,677.2 146.4,676.0 146.5,674.8 146.5,673.6 146.5,672.7 146.6,671.5 146.6,670.3 146.6,669.2 146.7,668.2 146.7,667.0 146.7,665.8 146.7,664.7 146.8,661.7 146.8,662.4 146.8,661.1 146.9,659.9 146.9,658.8 146.9,657.6 147.0,656.5 147.0,655.3 147.0,654.6 147.1,653.4 147.1,652.3 147.1,651.2 147.2,650.0 147.2,648.9 147.2,647.4 147.2,646.3 147.3,645.1 147.3,643.2 147.3,642.0 147.4,642.4 147.4,643.0 147.4,641.2 147.5,638.1 147.5,637.0 147.5,635.9 147.5,634.8 147.6,632.2 147.6,633.1 147.6,631.9 147.7,630.0 147.7,628.9 147.7,627.8 147.7,627.0 147.8,625.9 147.8,625.2 147.8,624.1 147.9,623.0 147.9,621.9 147.9,621.5 147.9,620.4 148.0,619.2 148.0,618.1 148.0,617.1 148.1,616.0 148.1,614.9 148.1,613.9 148.1,611.4 148.2,610.3 148.2,609.2 148.2,608.2 148.3,608.4 148.3,607.3 148.3,606.3 148.3,605.2 148.4,603.7 148.4,602.7 148.4,601.7 148.5,600.6 148.5,599.6 148.5,600.5 148.5,597.6 148.6,596.6 148.6,597.0 148.6,594.6 148.6,593.5 148.7,592.5 148.7,590.4 148.7,587.4 148.7,588.4 148.8,588.2 148.8,587.2 148.8,586.2 148.8,585.2 148.9,584.4 148.9,583.5 148.9,582.5 148.9,581.5 149.0,580.8 149.0,579.9 149.0,577.6 149.0,576.7 149.1,575.7 149.1,575.9 149.1,575.0 149.1,574.0 149.2,573.1 149.2,572.2 149.2,571.5 149.2,570.6 149.3,569.7 149.3,568.8 149.3,567.9 149.3,567.2 149.4,566.3 149.4,564.5 149.4,563.7 149.4,562.8 149.4,561.9 149.5,561.0 149.5,559.8 149.5,558.9 149.5,558.0 149.6,558.1 149.6,559.4 149.6,556.4 149.6,555.5 149.6,554.7 149.7,555.9 149.7,553.2 149.7,552.4 149.7,551.5 149.7,550.7 149.8,549.9 149.8,549.1 149.8,547.7 149.8,546.9 149.8,546.1 149.9,546.2 149.9,545.4 149.9,544.6 149.9,543.8 149.9,543.0 150.0,541.4 150.0,540.6 150.0,539.8 150.0,538.4 150.1,536.9 150.1,534.2 150.1,534.2 150.2,532.8 150.2,531.3 150.2,529.9 150.3,528.5 150.3,527.1 150.3,525.3 150.4,521.4 150.4,525.1 150.4,521.3 150.5,522.2 150.5,518.3 150.5,516.9 150.6,515.5 150.6,514.2 150.6,513.5 150.7,512.2 150.7,511.1 150.7,509.8 150.8,508.4 150.8,507.1 150.8,505.1 150.8,503.8 150.9,502.5 150.9,501.2 150.9,500.2 151.0,498.9 151.0,497.4 151.0,496.1 151.0,494.9 151.1,493.6 151.1,492.3 151.1,490.6 151.1,489.3 151.2,487.8 151.2,486.6 151.2,485.4 151.3,484.1 151.3,482.9 151.3,481.7 151.3,481.2 151.4,480.0 151.4,478.8 151.4,477.5 151.4,476.3 151.4,475.1 151.5,476.2 151.5,475.1 151.5,472.3 151.5,471.1 151.6,470.0 151.6,468.6 151.6,467.4 151.6,466.4 151.7,465.2 151.7,464.1 151.7,463.0 151.7,461.9 151.7,460.8 151.8,459.7 151.8,455.2 151.8,455.5 151.8,456.9 151.8,455.8 151.9,454.7 151.9,453.6 151.9,452.6 151.9,451.5 151.9,450.3 152.0,449.3 152.0,448.2 152.0,444.2 152.0,445.5 152.0,444.2 152.1,443.2 152.1,442.1 152.1,439.9 152.1,441.1 152.1,440.0 152.2,438.0 152.2,437.0 152.2,436.0 152.2,435.0 152.2,434.0 152.2,432.4 152.3,431.4 152.3,432.7 152.3,429.5 152.3,428.5 152.3,427.8 152.4,426.8 152.4,425.9 152.4,425.3 152.4,426.4 152.4,423.4 152.4,422.0 152.5,421.0 152.5,420.1 152.5,419.1 152.5,418.2 152.5,418.7 152.5,417.8 152.5,416.9 152.6,416.0 152.6,412.6 152.6,414.1 152.6,411.5 152.6,410.5 152.6,409.6 152.7,408.7 152.7,407.8 152.7,406.9 152.7,406.2 152.7,405.3 152.7,404.2 152.7,403.3 152.8,402.4 152.8,401.5 152.8,400.6 152.8,399.8 152.8,400.9 152.8,400.0 152.9,398.4 152.9,397.6 152.9,397.7 152.9,395.5 152.9,394.7 152.9,393.8 152.9,392.8 153.0,391.9 153.0,391.1 153.0,390.2 153.0,389.4 153.0,388.6 153.0,386.8 153.0,386.0 153.1,385.2 153.1,384.6 153.1,383.8 153.1,384.0 153.1,383.1 153.1,382.3 153.1,381.5 153.2,378.0 153.2,378.6 153.2,377.8 153.2,377.0 153.2,376.2 153.2,376.3 153.2,375.5 153.3,374.7 153.3,376.3 153.3,373.2 153.3,372.4 153.3,372.1 153.3,373.5 153.3,370.5 153.4,371.1 153.4,368.6 153.4,367.8 153.4,367.0 153.4,366.2 153.4,365.5 153.5,364.7 153.5,363.5 153.5,360.4 153.5,362.0 153.5,361.2 153.5,360.5 153.5,359.7 153.6,360.0 153.6,359.3 153.6,358.5 153.6,357.8 153.6,356.0 153.6,355.2 153.7,354.5 153.7,353.7 153.7,351.7 153.7,352.7 153.7,351.9 153.7,351.2 153.8,350.5 153.8,349.7 153.8,349.0 153.8,348.4 153.8,347.7 153.8,346.9 153.9,346.2 153.9,345.5 153.9,345.2 153.9,344.4 153.9,343.7 153.9,341.6 154.0,340.9 154.0,340.2 154.0,340.0 154.0,338.4 154.1,336.9 154.1,335.7 154.2,334.1 154.2,332.6 154.2,329.3 154.3,329.7 154.3,328.2 154.3,325.6 154.4,324.2 154.4,323.8 154.5,322.4 154.5,321.0 154.5,319.6 154.6,318.3 154.6,316.9 154.7,315.0 154.7,313.7 154.7,310.4 154.8,311.1 154.8,308.1 154.8,308.6 154.9,309.0 154.9,307.8 155.0,306.5 155.0,305.3 155.0,303.1 155.1,301.9 155.1,300.8 155.1,299.6 155.2,298.5 155.2,296.5 155.2,295.4 155.3,295.8 155.3,294.7 155.4,293.6 155.4,292.5 155.4,291.5 155.5,288.8 155.5,287.8 155.5,286.7 155.6,285.7 155.6,284.7 155.6,284.5 155.7,283.5 155.7,282.6 155.7,281.6 155.8,280.7 155.8,280.1 155.9,279.1 155.9,278.2 155.9,277.3 156.0,276.4 156.0,275.2 156.0,274.3 156.1,273.5 156.1,272.6 156.1,271.8 156.2,270.9 156.2,269.5 156.2,268.7 156.3,268.4 156.3,267.5 156.3,265.0 156.4,265.6 156.4,267.9 156.4,264.7 156.5,264.6 156.5,263.8 156.5,263.1 156.6,260.0 156.6,261.6 156.6,260.9 156.7,257.8 156.7,259.6 156.7,258.9 156.8,258.2 156.8,256.7 156.8,256.0 156.9,255.3 156.9,254.7 156.9,254.0 157.0,253.3 157.0,251.5 157.0,250.9 157.1,250.3 157.1,249.6 157.1,249.9 157.2,249.3 157.2,248.7 157.2,249.1 157.3,248.5 157.3,247.9 157.5,245.1 157.6,242.7 157.7,240.6 157.9,237.2 158.0,235.7 158.2,237.2 158.3,235.2 158.4,232.6 158.5,231.9 158.7,231.3 158.8,230.8 158.9,231.8 159.1,231.4 159.2,231.1 159.4,230.8 159.5,230.4 159.7,231.7 159.8,227.3 160.0,226.7 160.5,225.0 161.0,223.6 161.5,223.1 162.0,222.2 162.6,222.3 163.3,222.1 164.0,221.2 164.5,221.4 165.0,221.8 165.5,220.3 166.1,223.5 166.7,224.2 167.3,225.7 167.9,228.0 168.5,227.7 169.1,231.1 169.7,229.5 170.3,232.8 170.8,232.0 171.1,232.7 171.4,233.5 171.7,234.2 172.0,235.1 172.3,236.1 172.6,236.8 172.9,237.8 173.1,236.5 173.4,240.0 173.7,241.1 174.0,243.7 174.3,246.7 174.5,245.9 174.8,247.0 175.1,247.6 175.3,248.6 175.6,250.9 175.9,250.5 176.1,251.3 176.4,252.0 176.6,252.7 177.2,254.3 177.8,255.8 178.3,256.9 178.8,257.2 179.4,256.8 179.9,258.7 180.4,259.1 181.0,259.3 181.8,259.3 182.6,258.5 183.4,257.6 184.3,256.5 185.1,255.5 186.0,255.4 186.8,254.6 187.5,251.0 188.3,252.4 189.1,250.4 189.9,249.6 190.6,247.0 191.2,251.3 191.7,249.2 192.1,249.9 192.5,251.1 192.8,252.1 193.2,253.3 193.4,254.5 193.7,255.7 194.0,257.2 194.2,258.2 194.5,259.1 194.7,260.1 194.8,261.3 195.0,262.3 195.2,263.3 195.3,264.4 195.5,265.5 195.6,265.8 195.8,266.7 195.9,267.6 196.1,268.5 196.2,268.8 196.3,269.8 196.5,270.8 196.6,272.3 196.8,273.4 197.0,274.6 197.1,275.5 197.3,278.1 197.4,279.1 197.6,280.1 197.7,281.2 197.9,282.2 198.0,283.3 198.2,281.2 198.3,283.6 198.5,284.7 198.7,285.7 198.8,286.4 199.0,287.4 199.1,288.3 199.3,290.6 199.5,290.5 199.8,292.9 200.0,294.0 200.2,294.6 200.5,295.5 200.7,296.5 200.9,299.0 201.1,298.3 201.3,295.9 201.5,299.0 201.7,300.1 201.9,302.4 202.0,303.4 202.1,304.3 202.3,304.0 202.4,305.1 202.6,306.4 202.8,307.8 202.9,308.6 203.0,311.0 203.2,311.9 203.3,312.9 203.4,313.9 203.6,314.9 203.7,315.3 203.9,317.9 204.0,317.5 204.2,318.5 204.4,319.6 204.5,320.7 204.7,319.4 204.9,322.8 205.1,323.9 205.3,324.7 205.5,325.7 205.7,326.7 205.9,327.8 206.1,329.2 206.4,330.2 206.6,331.2 206.8,329.3 207.1,332.3 207.3,333.3 207.5,334.3 207.8,336.3 208.1,339.9 208.3,338.3 208.6,339.3 208.9,340.3 209.2,341.4 209.5,342.3 209.9,343.3 210.2,344.3 210.5,342.4 210.9,345.7 211.2,346.7 211.6,347.6 211.9,348.6 212.3,349.5 212.6,348.3 213.0,351.4 213.3,352.5 213.7,353.5 214.1,354.6 214.5,355.6 214.9,354.6 215.3,357.7 215.7,358.7 216.1,359.6 216.5,360.6 216.9,359.2 217.3,362.5 217.6,363.4 217.9,364.2 218.3,365.4 218.6,367.1 218.8,368.2 219.0,369.2 219.2,370.1 219.5,371.1 219.9,371.6 220.3,372.5 220.8,373.5 221.5,372.3 222.1,375.6 222.8,376.6 223.6,377.4 224.4,378.8 225.2,379.2 226.1,379.3 226.8,379.1 227.5,378.2 228.2,377.5 229.0,376.7 229.8,375.5 230.6,374.6 231.4,373.6 232.2,372.7 232.9,372.1 233.6,371.4 234.2,370.9 235.5,370.1 236.5,369.9 237.5,370.4 238.9,370.3 239.8,369.2 240.8,371.3 241.8,368.8 243.0,368.6 244.2,368.4 245.3,368.3 246.4,367.9 247.4,367.8 248.2,367.8 249.7,368.0 250.8,367.9 251.7,368.4 252.5,371.4 253.1,371.1 253.6,371.9 254.0,372.8 254.5,373.9 255.0,375.0 255.3,375.7 255.6,376.6 256.0,377.5 256.3,378.4 256.7,376.7 257.0,380.0 257.4,381.1 257.7,382.2 258.1,383.3 258.4,385.5 258.7,388.3 258.9,387.6 259.1,388.0 259.3,388.9 259.5,388.2 259.6,390.8 259.8,391.8 259.9,392.8 260.1,393.8 260.3,394.8 260.4,395.9 260.6,394.9 260.7,398.0 260.9,398.6 261.0,399.6 261.2,400.7 261.4,402.3 261.5,403.3 261.7,403.3 261.8,404.3 262.0,405.4 262.1,406.4 262.3,407.4 262.4,408.4 262.6,410.9 262.8,411.9 262.9,413.0 263.1,413.4 263.2,414.4 263.4,415.4 263.5,415.4 263.7,416.4 263.9,417.4 264.0,418.8 264.2,419.8 264.4,421.5 264.6,422.5 264.8,423.5 264.9,424.5 265.1,425.5 265.3,426.5 265.5,428.6 265.6,429.6 265.8,430.6 265.9,432.6 266.1,431.7 266.2,432.7 266.3,433.7 266.4,434.7 266.5,435.6 266.6,436.3 266.7,437.2 266.7,438.1 266.8,441.0 266.9,440.0 267.0,441.0 267.0,441.6 267.1,442.6 267.2,443.5 267.3,444.6 267.4,444.8 267.5,447.3 267.6,448.2 267.7,449.2 267.8,450.2 267.9,451.2 268.0,452.2 268.1,453.8 268.2,454.8 268.3,455.9 268.4,458.5 268.6,457.1 268.7,456.4 268.8,459.3 268.9,460.3 269.0,461.4 269.2,462.5 269.3,462.4 269.4,462.6 269.5,466.5 269.6,467.5 269.8,468.5 269.9,469.4 270.0,470.2 270.2,471.5 270.3,471.8 270.5,472.9 270.6,474.0 270.7,475.0 270.9,476.0 271.0,477.0 271.2,478.3 271.3,479.2 271.5,480.4 271.7,481.3 271.8,482.2 272.0,483.2 272.3,484.1 272.5,485.0 272.8,486.1 273.1,487.2 273.4,487.0 273.8,489.4 274.1,489.1 274.5,490.1 274.9,491.8 275.3,492.9 275.6,493.8 276.0,494.8 276.4,495.7 276.8,497.4 277.2,498.2 277.5,499.0 278.2,500.0 278.8,501.2 279.5,502.2 280.1,503.0 280.8,500.8 281.4,503.8 282.0,504.7 282.8,505.5 283.7,506.3 284.5,506.9 285.3,507.6 286.2,507.8 287.1,507.6 288.1,507.3 289.0,506.3 290.0,505.5 291.0,504.5 291.6,504.3 292.2,503.7 292.8,503.1 293.4,501.7 294.0,501.0 294.6,500.1 295.1,499.2 295.7,498.0 296.2,496.6 296.4,495.8 296.7,495.0 296.9,493.7 297.1,494.0 297.3,493.0 297.5,491.9 297.7,489.4 297.9,488.2 298.1,487.1 298.3,485.9 298.5,484.8 298.7,483.6 298.9,484.0 299.1,481.5 299.3,482.7 299.5,481.7 299.6,480.8 299.8,479.0 300.0,478.3 300.4,474.9 300.8,473.7 301.2,474.5 301.6,473.7 302.0,472.2 302.3,471.4 302.7,470.6 303.0,469.5 303.2,468.6 303.4,467.7 303.6,467.2 303.8,466.2 304.0,463.2 304.2,464.2 304.4,464.0 304.6,462.9 304.8,459.5 305.0,457.6 305.3,459.1 305.6,458.3 305.9,457.4 306.2,456.6 306.6,455.7 306.9,457.4 307.2,455.3 307.5,452.4 307.8,448.8 308.0,451.3 308.1,450.5 308.2,452.0 308.3,447.8 308.3,448.9 308.4,445.9 308.4,445.1 308.5,444.1 308.5,443.1 308.6,440.7 308.6,441.0 308.7,439.9 308.7,438.3 308.7,437.2 308.8,438.2 308.8,435.0 308.8,434.0 308.9,432.9 308.9,431.3 309.0,430.3 309.0,429.3 309.0,428.7 309.1,427.7 309.1,426.7 309.2,425.6 309.2,424.8 309.3,423.7 309.3,422.7 309.4,419.3 309.4,420.5 309.4,419.4 309.5,418.0 309.5,416.9 309.6,415.9 309.6,417.1 309.7,413.9 309.7,412.9 309.8,412.0 309.9,411.1 309.9,410.3 310.0,410.3 310.2,408.8 310.3,407.5 310.5,406.4 310.6,405.4 310.8,404.4 311.0,403.5 311.2,402.7 311.5,401.1 311.7,400.3 312.0,399.4 312.4,398.3 312.8,397.0 313.3,395.8 313.8,395.7 314.3,394.7 314.9,394.2 315.4,393.8 316.0,393.8 316.4,393.4 316.7,393.8 317.1,394.5 317.5,395.3 317.9,396.1 318.4,397.1 318.8,398.2 319.2,399.6 319.6,400.7 320.0,401.9 320.3,403.1 320.7,404.7 321.0,405.8 321.3,406.7 321.5,407.6 321.8,408.1 322.0,409.1 322.2,412.3 322.4,410.5 322.6,411.6 322.8,412.6 323.0,413.6 323.2,414.7 323.4,415.6 323.6,416.6 323.7,418.2 323.9,419.2 324.0,420.2 324.1,421.2 324.2,421.6 324.3,422.6 324.4,423.6 324.4,424.6 324.4,426.4 324.5,427.4 324.5,428.4 324.6,429.4 324.6,429.8 324.6,432.7 324.7,431.8 324.8,432.8 324.9,433.8 325.0,434.8 325.1,437.0 325.3,438.0 325.5,439.0 325.7,440.0 325.9,439.8 326.1,440.8 326.3,441.8 326.6,442.8 326.8,444.3 327.0,445.3 327.2,446.3 327.4,447.3 327.6,446.2 327.8,449.3 328.0,449.7 328.2,450.7 328.3,452.4 328.5,453.4 328.6,456.3 328.7,455.4 328.9,456.4 329.0,457.4 329.1,458.4 329.2,458.9 329.4,459.9 329.5,460.9 329.6,463.4 329.7,465.9 329.9,465.2 330.0,466.2 330.2,467.2 330.3,468.1 330.4,469.0 330.6,468.8 330.7,469.6 330.9,470.0 331.0,470.8 331.2,473.1 331.3,472.7 331.5,473.6 331.6,474.7 331.8,476.7 332.0,478.1 332.1,478.1 332.2,478.9 332.3,479.8 332.4,484.0 332.4,483.6 332.5,484.6 332.6,485.5 332.7,486.5 332.8,487.8 332.8,488.9 332.9,488.3 333.0,489.4 333.1,490.5 333.2,491.6 333.3,493.1 333.4,494.2 333.5,495.3 333.7,497.3 333.8,498.4 333.9,499.5 334.1,498.7 334.2,499.8 334.4,500.9 334.5,502.1 334.7,501.7 334.9,504.2 335.1,506.8 335.3,507.8 335.5,508.8 335.7,509.8 335.9,510.9 336.1,512.0 336.3,513.4 336.6,514.5 336.8,515.5 337.0,516.6 337.3,515.8 337.5,516.9 337.8,517.9 338.0,518.9 338.3,520.0 338.6,521.0 338.9,522.1 339.2,523.1 339.5,524.0 339.8,525.0 340.1,526.6 340.4,527.5 340.8,530.1 341.1,529.0 341.5,528.7 341.8,529.4 342.2,530.0 342.9,531.1 343.7,532.0 344.5,533.2 345.3,533.8 346.2,534.4 347.1,534.9 348.0,535.3 348.9,535.7 349.9,536.1 350.8,536.4 351.8,536.8 352.7,537.3 353.6,538.5 354.5,539.1 355.3,539.8 356.0,539.3 356.7,540.0 357.4,540.7 358.1,541.5 358.7,542.2 359.4,541.2 360.1,541.4 360.8,544.6 361.4,546.9 362.1,547.7 362.7,548.6 363.4,549.4 364.0,549.5 364.6,550.4 365.2,552.1 365.8,553.0 366.4,553.0 367.0,552.5 367.5,554.8 368.0,555.6 368.5,556.5 369.0,557.3 369.5,558.7 370.0,559.6 370.4,560.5 370.9,561.4 371.3,560.5 371.8,561.4 372.2,564.5 372.6,565.5 373.1,566.4 373.5,567.3 373.9,567.9 374.4,568.9 374.8,569.9 375.2,570.8 375.7,571.8 376.1,571.8 376.5,572.7 376.8,573.6 377.2,574.5 377.6,576.4 377.9,579.2 378.3,578.3 378.6,579.2 379.0,580.2 379.3,581.2 379.7,581.2 380.0,582.2 380.4,583.2 380.8,584.5 381.2,585.5 381.6,589.0 382.0,587.3 382.5,588.5 382.9,589.4 383.4,590.3 383.9,592.8 384.4,591.2 385.0,593.2 385.6,594.1 386.2,594.9 386.9,595.8 387.6,596.6 388.3,597.4 389.0,598.5 389.7,599.3 390.4,600.0 391.2,600.8 391.9,601.0 392.7,599.3 393.4,602.4 394.2,603.1 395.0,603.7 395.8,604.4 396.6,606.4 397.4,607.0 398.2,606.8 399.0,607.3 399.9,608.7 400.8,606.9 401.7,607.4 402.7,607.8 403.6,608.2 404.6,606.4 405.6,609.1 406.5,609.4 407.5,609.7 408.5,609.9 409.5,610.2 410.5,610.4 411.5,608.6 412.5,611.2 413.5,611.4 414.4,611.7 415.4,611.9 416.4,612.7 417.4,613.0 418.3,613.3 419.3,613.9 420.3,614.1 421.3,614.8 422.2,615.0 423.2,615.3 424.2,615.6 425.1,615.8 426.1,615.1 427.1,615.3 428.1,615.6 429.0,615.8 430.0,616.0 431.0,616.2 432.0,615.9 432.9,614.1 433.9,616.2 434.9,616.3 436.0,616.4 437.0,618.1 438.0,618.2 439.1,618.2 440.1,619.7 441.1,617.7 442.1,617.6 443.2,617.6 444.2,617.9 445.2,617.9 446.3,617.9 447.3,614.5 448.3,616.2 449.3,616.3 450.4,616.4 451.4,616.5 452.4,617.8 453.4,618.0 454.3,617.2 455.3,617.5 456.3,617.4 457.3,617.7 458.3,618.1 459.3,618.4 460.3,618.7 461.3,620.4 462.2,620.8 463.2,621.8 464.2,622.1 465.1,620.9 466.1,622.7 467.0,622.5 467.9,622.8 468.8,623.0 469.9,623.3 471.1,623.1 472.3,621.7 473.4,623.7 474.5,623.9 475.7,624.1 476.8,624.4 477.8,624.6 478.9,626.1 479.9,625.0 480.9,625.1 481.8,625.3 482.6,624.7 483.4,624.8 484.9,624.2 486.0,624.4 486.8,624.5 487.7,622.0 488.7,624.1 490.0,623.5 490.7,625.0 491.5,624.5 492.3,623.9 493.1,623.3 494.0,622.6 494.9,622.0 495.9,618.8 496.8,620.6 497.8,619.9 498.8,619.2 499.7,618.4 500.7,617.9 501.6,617.6 502.5,617.3 503.5,617.2 504.6,617.2 505.6,616.4 506.7,616.7 507.7,617.0 508.8,619.1 509.8,619.0 510.8,619.4 511.9,619.6 512.9,621.2 514.0,619.9 515.0,619.8 515.9,619.5 516.8,619.9 517.7,619.5 518.5,618.9 519.4,617.4 520.3,616.7 521.2,616.1 522.1,615.4 523.0,614.7 523.9,614.5 524.7,613.9 525.6,613.4 526.5,611.7 527.4,610.3 528.4,611.9 529.5,611.6 530.5,611.4 531.6,611.6 532.6,611.5 533.6,611.4 534.7,611.4 535.7,611.4 536.8,611.4 537.8,611.4 538.9,611.3 539.9,611.2 540.9,611.1 542.0,611.0 543.0,610.9 544.1,610.8 545.1,610.7 546.1,608.3 547.2,610.5 548.2,610.4 549.3,610.3 550.3,609.0 551.4,608.9 552.4,608.7 553.4,608.6 554.4,608.4 555.4,609.7 556.3,609.6 557.2,609.4 558.2,609.2 559.2,609.5 560.2,609.3 561.3,609.0 562.4,607.7 563.6,607.5 564.9,607.2 565.7,609.5 566.6,606.8 567.6,604.8 568.6,607.6 569.6,606.0 570.6,606.0 571.7,605.8 572.8,605.7 573.9,605.5 575.0,605.2 576.1,605.1 577.2,603.6 578.3,604.7 579.3,604.4 580.3,604.1 581.3,603.8 582.3,604.7 583.2,604.4 584.0,604.0 584.8,603.6 585.7,602.2 586.5,601.5 587.3,600.9 587.9,600.5 588.6,599.7 589.2,599.1 589.7,598.3 590.3,597.5 590.8,595.1 591.3,595.8 591.8,595.0 592.4,592.5 592.9,591.6 593.5,590.8 594.1,589.9 594.8,589.6 595.4,588.9 596.0,586.2 596.7,587.4 597.3,584.5 598.0,585.9 598.7,585.0 599.3,583.0 600.0,583.4 600.7,580.9 601.4,582.2 602.1,581.4 602.8,580.5 603.5,579.3 604.1,578.5 604.8,577.7 605.4,577.0 606.1,576.3 606.7,576.9 607.3,574.3 608.1,573.4 608.9,575.1 609.6,571.7 610.4,570.9 611.1,570.2 611.9,570.1 612.6,569.4 613.3,568.7 613.9,568.0 614.6,567.4 615.3,566.7 615.9,565.8 616.6,565.2 617.2,564.7 618.1,563.8 619.0,563.0 619.9,562.3 620.7,562.2 621.5,561.6 622.3,561.0 623.1,560.6 623.9,560.3 624.7,560.2 625.5,560.4 626.3,560.6 627.1,560.9 627.9,560.2 628.7,560.7 629.5,561.4 630.4,562.2 631.3,563.1 632.2,567.0 632.7,566.0 633.2,566.4 633.8,567.1 634.4,568.2 634.9,568.9 635.5,569.6 636.1,570.4 636.7,570.1 637.4,570.9 638.0,571.9 638.6,572.8 639.1,573.7 639.7,573.4 640.3,575.9 640.8,576.9 641.3,577.2 641.8,578.2 642.2,579.2 642.5,577.8 642.8,581.0 643.1,580.3 643.4,584.3 643.6,585.3 643.9,586.3 644.1,587.0 644.3,588.0 644.5,588.5 644.7,589.5 644.9,590.6 645.0,591.7 645.2,593.2 645.4,594.3 645.6,595.4 645.8,596.5 646.0,597.5 646.2,598.6 646.4,598.9 646.7,599.9 646.9,600.9 647.2,601.9 647.5,602.9 647.8,601.5 648.1,605.4 648.4,606.4 648.8,607.4 649.1,608.8 649.4,609.8 649.8,610.7 650.1,610.1 650.5,611.1 650.8,612.0 651.2,613.0 651.5,613.9 651.9,614.9 652.3,616.7 652.7,617.7 653.1,618.6 653.5,619.5 653.9,621.4 654.3,622.3 654.7,623.2 655.1,624.1 655.6,625.0 656.0,625.9 656.5,626.9 657.0,627.8 657.4,627.9 657.9,628.9 658.4,629.8 658.9,630.7 659.4,631.5 659.9,632.4 660.4,632.1 660.9,632.9 661.4,633.8 662.0,634.6 662.5,635.4 663.0,636.2 663.6,638.1 664.1,638.9 664.7,639.6 665.4,640.5 666.1,641.3 666.8,642.2 667.5,642.9 668.2,646.1 669.0,644.4 669.8,646.4 670.5,645.7 671.3,648.3 672.0,647.2 672.8,647.9 673.6,648.6 674.3,649.3 675.0,650.0 675.7,650.8 676.4,651.6 677.1,652.4 677.7,652.2 678.3,653.0 678.8,655.0 679.4,658.3 679.9,656.7 680.4,656.7 680.9,657.6 681.4,658.5 681.9,658.9 682.4,659.8 683.0,660.7 683.5,661.6 684.0,662.4 684.6,664.2 685.2,664.9 685.8,665.7 686.4,666.4 687.1,668.6 687.9,667.7 688.8,668.5 689.6,669.1 690.6,671.8 691.5,670.0 692.5,670.5 693.5,670.9 694.4,670.8 695.4,671.2 696.4,671.5 697.4,672.1 698.4,672.5 699.4,672.9 700.3,673.4 701.2,674.7 702.1,675.2 702.9,675.8 703.7,675.5 704.4,676.1 705.0,676.7 705.7,677.3 706.3,675.4 706.9,678.6 707.5,678.5 708.2,679.2 708.9,679.8 709.6,681.2 710.4,681.9 711.3,682.6 712.3,683.3 713.3,684.0 714.5,684.8 715.2,685.2 715.9,684.7 716.7,685.1 717.5,685.5 718.4,685.9 719.2,687.8 720.1,688.3 721.1,688.1 722.0,688.5 723.0,686.6 724.0,689.4 724.9,689.9 726.0,690.3 727.0,690.7 728.0,691.1 729.0,691.6 730.0,691.5 731.1,691.9 732.1,692.3 733.1,692.7 734.1,693.1 735.1,693.6 736.1,694.9 737.1,695.3 738.0,694.3 739.0,696.1 739.9,694.9 740.7,695.3 741.6,695.6 742.6,698.2 743.7,697.9 744.7,700.2 745.7,698.8 746.7,699.2 747.6,698.9 748.6,699.3 749.5,699.7 750.4,700.1 751.4,700.5 752.3,701.4 753.2,701.8 754.1,702.1 755.0,702.5 755.9,702.8 756.8,703.1 757.7,703.5 758.6,704.0 759.5,704.4 760.4,704.7 761.3,707.4 762.3,705.5 763.2,705.8 764.2,706.1 765.3,705.2 766.4,705.4 767.5,706.8 768.5,707.0 769.6,707.2 770.8,707.6 771.9,707.8 773.0,707.2 774.0,707.3 775.1,707.4 776.2,707.2 777.3,707.3 778.3,707.4 779.3,707.6 780.3,706.2 781.3,707.8 782.3,708.4 783.2,708.6 784.1,708.0 784.9,708.2 786.1,708.5 787.1,709.5 787.9,709.9 788.7,710.3 789.4,710.5 790.1,710.9 790.8,711.4 791.5,711.4 792.3,711.8 793.1,712.3 794.0,713.0 795.1,713.4 796.4,713.7 797.8,714.0 798.6,714.1 799.4,714.1 800.3,714.2 801.2,714.4 802.2,714.5 803.2,714.7 804.3,715.1 805.4,713.7 806.5,715.4 807.7,715.5 808.8,715.7 810.0,715.0 811.2,715.2 812.4,715.3 813.6,715.8 814.8,715.9 816.0,716.0 817.2,716.4 818.3,716.5 819.4,716.5 820.5,716.6 821.6,718.3 822.6,716.6 823.6,715.9 824.5,715.8 825.3,715.8 826.1,715.7 826.9,715.6 827.5,715.5 828.1,715.6 829.4,715.1 830.2,713.1 830.7,712.0 831.0,710.7 831.0,712.2 830.9,710.8 830.7,709.5 830.5,708.3 830.3,703.5 830.2,705.4 830.3,705.2 830.4,705.4 830.4,705.7 830.3,706.6 830.2,707.8 830.2,709.2 830.2,708.4 830.3,712.4 830.6,713.7 831.2,716.6 832.0,715.8 832.6,716.2 833.3,716.4 834.0,716.8 834.9,717.1 835.8,717.4 836.7,717.6 837.7,717.9 838.8,715.9 839.9,718.3 841.0,718.4 842.1,718.6 843.2,718.8 844.4,719.0 845.5,720.3 846.6,718.0 847.7,720.7 848.7,720.9 849.7,721.1 850.7,721.3 851.7,721.5 852.7,721.8 853.6,722.1 854.6,722.4 855.5,721.4 856.4,723.0 857.4,722.0 858.3,722.3 859.3,722.5 860.3,722.7 861.3,722.7 862.3,722.8 863.4,724.2 864.6,723.0 865.8,723.8 867.0,723.7 867.8,723.6 868.7,723.5 869.5,723.4 870.4,725.4 871.3,723.6 872.3,723.4 873.2,722.3 874.2,722.1 875.2,721.8 876.2,721.5 877.2,721.2 878.2,720.9 879.2,720.6 880.2,721.8 881.3,719.7 882.3,721.2 883.3,720.8 884.3,720.7 885.4,720.3 886.4,720.0 887.4,717.4 888.3,717.1 889.3,716.7 890.3,716.4 891.2,716.1 892.1,717.1 893.0,716.8 894.1,716.5 895.1,718.7 896.2,715.8 897.2,714.3 898.2,714.0 899.2,713.7 900.2,713.3 901.2,710.6 902.2,712.9 903.1,712.5 904.1,713.9 905.0,711.6 906.0,711.3 906.9,711.0 907.9,710.8 908.8,710.5 909.8,710.0 910.7,709.7 911.7,709.5 912.7,709.2 913.6,709.4 914.6,709.2 915.6,709.0 916.7,708.9 917.7,708.7 918.8,708.6 919.8,709.5 920.9,711.5 922.0,709.3 923.0,709.2 924.1,709.2 925.1,709.1 926.2,708.7 927.2,708.7 928.3,708.6 929.3,706.2 930.3,708.0 931.4,707.9 932.4,707.8 933.3,707.7 934.3,707.6 935.3,707.5 936.2,710.6 937.3,708.0 938.5,707.8 939.6,707.6 940.7,706.6 941.7,706.3 942.8,706.1 943.8,705.8 944.9,705.2 945.9,704.9 946.9,704.4 947.9,704.2 948.9,703.9 949.8,703.6 950.8,703.3 951.7,703.0 952.6,703.8 953.5,703.6 954.6,703.0 955.6,702.6 956.6,702.1 957.7,701.6 958.6,701.0 959.6,700.7 960.5,700.1 961.5,699.6 962.4,699.3 963.2,698.9 964.1,698.6 964.9,696.5 965.7,698.3 966.5,698.4 967.5,700.8 968.4,699.0 969.3,698.4 970.1,699.1 970.9,700.8 971.7,701.6 972.5,702.5 973.2,703.4 973.9,704.2 974.5,705.0 975.1,705.4 975.9,706.5 976.5,707.5 976.9,708.5 977.4,709.4 977.9,709.2 978.6,710.1 979.5,709.5 980.2,713.2 981.1,711.7 982.0,712.1 983.0,714.2 984.0,714.5 985.0,716.7 986.1,714.7 987.2,715.3 988.2,715.5 989.3,715.6 990.3,715.7 991.2,716.9 992.1,715.6 993.0,714.7 993.8,714.5 994.6,714.3 995.5,714.0 996.4,713.7 997.4,713.4 998.5,714.0 999.7,713.8 1001.1,712.6 1001.9,712.5 1002.8,712.5 1003.7,712.4 1004.8,712.4 1005.8,710.8 1006.9,712.4 1008.0,712.4 1009.2,711.8 1010.4,711.8 1011.5,711.8 1012.7,711.8 1013.9,714.3 1015.0,711.9 1016.2,712.6 1017.3,712.6 1018.3,713.4 1019.3,713.4 1020.3,713.5 1021.2,713.5 1022.0,713.5 1022.7,713.2 1024.3,713.2 1025.3,713.4 1025.8,713.3 1026.3,713.5 1026.9,713.6 1028.1,713.7 1030.0,713.7 1030.7,713.7 1031.4,712.0 1032.3,713.7 1033.1,713.6 1034.1,713.6 1035.0,713.5 1036.1,713.0 1037.1,712.9 1038.2,712.8 1039.3,712.7 1040.4,713.1 1041.6,713.0 1042.7,712.9 1043.9,712.8 1045.1,712.7 1046.3,715.3 1047.4,713.9 1048.6,714.0 1049.7,712.0 1050.8,712.0 1051.9,714.3 1053.0,711.9 1054.0,712.0 1055.0,712.0 1055.9,712.1 1056.8,712.9 1058.0,713.1 1059.1,713.3 1060.2,713.7 1061.3,714.0 1062.3,714.0 1063.2,714.3 1064.2,714.7 1065.1,715.7 1066.0,716.1 1066.9,716.5 1067.8,716.9 1068.7,717.2 1069.6,717.6 1070.5,717.9 1071.5,717.6 1072.5,719.9 1073.5,718.2 1074.6,718.5 1075.5,717.8 1076.5,719.6 1077.4,717.7 1078.4,717.8 1079.4,717.9 1080.4,718.0 1081.4,718.1 1082.4,718.2 1083.4,718.8 1084.4,720.2 1085.5,720.2 1086.5,720.3 1087.6,720.3 1088.6,717.6 1089.6,719.1 1090.7,716.8 1091.7,719.2 1092.8,719.3 1093.8,717.2 1094.9,720.4 1095.9,720.5 1096.9,720.1 1097.9,722.1 1098.9,720.5 1099.9,723.3 1101.0,720.4 1102.0,720.7 1103.0,722.4 1104.0,722.7 1105.0,724.6 1106.0,723.2 1107.0,723.5 1108.1,723.0 1109.1,723.3 1110.1,723.6 1111.1,723.8 1112.1,724.1 1113.1,724.4 1114.1,724.4 1115.1,724.7 1116.2,724.9 1117.2,725.3 1118.2,725.5 1119.2,724.1 1120.2,726.5 1121.2,726.5 1122.2,726.7 1123.3,726.9 1124.3,727.2 1125.3,727.0 1126.3,728.9 1127.3,727.4 1128.3,727.6 1129.3,727.8 1130.3,727.4 1131.4,727.6 1132.4,727.8 1133.4,729.0 1134.4,729.2 1135.4,731.3 1136.4,729.6 1137.4,729.8 1138.5,730.6 1139.5,730.8 1140.5,731.0 1141.5,731.2 1142.5,731.5 1143.5,731.7 1144.5,732.0 1145.6,732.2 1146.6,732.5 1147.6,732.2 1148.6,732.4 1149.6,732.7 1150.6,733.0 1151.6,733.3 1152.7,733.5 1153.7,733.3 1154.7,733.6 1155.7,733.9 1156.7,732.4 1157.7,734.0 1158.7,734.2 1159.7,734.5 1160.8,734.7 1161.8,734.9 1162.8,735.1 1163.8,735.4 1164.8,735.6 1165.8,736.8 1166.8,736.9 1167.9,737.1 1168.9,737.3 1169.9,736.5 1170.9,736.6 1171.9,737.2 1172.9,737.3 1173.9,737.5 1174.9,738.7 1176.0,738.8 1177.0,739.0 1178.0,739.1 1179.0,739.3 1180.0,738.7 1181.0,738.8 1182.0,739.0 1183.1,739.1 1184.1,739.3 1185.1,739.3 1186.1,739.4 1187.1,739.6 1188.1,739.7 1189.1,740.6 1190.2,740.7 1191.2,740.8 1192.2,741.0 1193.2,741.1 1194.2,741.1 1195.2,739.5 1196.2,740.9 1197.2,741.0 1198.3,743.3 1199.3,741.3 1200.3,741.5 1201.3,739.5 1202.3,741.8 1203.3,742.0 1204.3,742.8 1205.4,743.0 1206.4,743.1 1207.4,743.3 1208.4,743.5 1209.4,745.2 1210.4,742.3 1211.4,742.5 1212.5,742.8 1213.5,744.9 1214.5,745.1 1215.5,747.8 1216.5,745.7 1217.5,744.1 1218.5,744.4 1219.6,744.9 1220.6,745.1 1221.6,746.2 1222.6,746.5 1223.6,744.7 1224.6,747.4 1225.6,745.9 1226.6,748.0 1227.7,748.2 1228.7,748.5 1229.7,747.7 1230.7,747.9 1231.7,748.2 1232.7,749.3 1233.7,749.6 1234.8,749.1 1235.8,749.3 1236.8,749.6 1237.8,749.8 1238.8,750.0 1239.8,750.3 1240.8,750.3 1241.8,750.5 1242.9,750.7 1243.9,750.9 1244.9,751.1 1245.9,751.9 1246.9,752.1 1247.9,752.3 1248.9,752.0 1250.0,752.1 1251.0,751.7 1252.0,751.8 1253.0,750.0 1254.0,753.0 1255.0,753.0 1256.0,753.0 1257.1,753.0 1258.1,753.0 1259.1,752.9 1260.1,754.4 1261.1,752.5 1262.1,752.4 1263.1,752.3 1264.2,752.2 1265.2,752.6 1266.2,752.5 1267.2,751.7 1268.2,751.6 1269.2,751.5 1270.2,751.5 1271.2,751.2 1272.3,753.4 1273.3,754.2 1274.3,751.9 1275.3,751.9 1276.3,752.0 1277.3,752.3 1278.3,752.4 1279.4,752.4 1280.4,751.7 1281.4,751.8 1282.4,751.9 1283.4,752.1 1284.4,752.0 1285.4,752.1 1286.4,752.3 1287.5,750.2 1288.5,752.5 1289.5,753.0 1290.5,753.1 1291.5,753.5 1292.5,753.6 1293.5,753.7 1294.6,755.8 1295.6,755.9 1296.6,754.4 1297.6,754.4 1298.6,754.5 1299.6,753.4 1300.6,753.4 1301.5,754.1 1302.5,754.2 1303.4,754.2 1304.4,754.2 1305.3,755.1 1306.2,755.1 1307.2,755.1 1308.1,755.1 1309.1,755.1 1310.1,754.1 1311.1,754.0 1312.1,754.0 1313.1,754.0 1314.2,754.6 1315.2,754.5 1316.4,754.5 1317.5,753.2 1318.7,753.2 1319.9,752.7 1320.8,751.0 1321.7,750.1 1322.7,752.6 1323.7,752.6 1324.7,752.6 1325.8,752.5 1326.9,752.4 1328.0,752.4 1329.1,752.4 1330.3,752.4 1331.5,752.3 1332.6,752.0 1333.8,752.0 1335.0,751.9 1336.2,751.9 1337.3,753.2 1338.5,753.2 1339.7,753.1 1340.8,753.1 1341.9,753.1 1343.0,753.4 1344.0,753.4 1345.0,753.4 1346.0,753.3 1346.9,753.3 1347.8,753.7 1348.7,753.6 1349.5,753.6 1350.2,753.6 1350.9,755.2 1351.5,752.8 1352.0,752.8"/>
<polyline points="139.8,927.3 139.8,926.8 139.9,926.3 139.9,926.6 139.9,926.0 139.9,925.3 140.0,923.5 140.0,922.7 140.0,921.9 140.1,923.4 140.1,920.2 140.2,919.3 140.2,919.2 140.2,918.3 140.3,917.3 140.3,916.3 140.4,915.6 140.4,914.6 140.5,913.5 140.5,912.4 140.6,911.3 140.6,909.3 140.7,908.1 140.7,907.0 140.8,905.9 140.8,904.5 140.9,903.4 140.9,902.2 141.0,900.8 141.1,899.6 141.1,898.4 141.2,897.2 141.2,896.2 141.3,895.0 141.4,893.8 141.4,893.1 141.5,892.0 141.5,890.8 141.6,889.7 141.7,888.6 141.7,887.7 141.8,886.6 141.8,885.5 141.9,884.4 142.0,883.4 142.0,882.1 142.1,881.1 142.2,880.1 142.2,879.1 142.3,879.0 142.4,878.0 142.4,876.9 142.5,874.2 142.6,874.8 142.6,873.8 142.7,872.9 142.8,871.9 142.9,870.8 142.9,869.8 143.0,867.8 143.1,866.8 143.2,868.1 143.2,864.7 143.3,863.6 143.4,862.5 143.5,861.7 143.5,860.7 143.6,859.6 143.7,858.6 143.8,857.6 143.9,858.2 143.9,855.5 144.0,854.5 144.1,853.1 144.2,852.1 144.3,851.1 144.3,850.1 144.4,849.1 144.5,848.0 144.6,846.9 144.7,845.9 144.7,844.9 144.8,843.9 144.9,843.0 145.0,842.1 145.1,841.1 145.1,840.2 145.2,836.5 145.3,839.0 145.4,836.6 145.4,835.7 145.5,834.8 145.6,834.6 145.7,833.5 145.8,832.3 145.9,833.6 146.0,830.0 146.1,828.9 146.2,827.8 146.3,826.8 146.4,825.7 146.5,825.1 146.6,825.5 146.7,823.1 146.8,822.1 147.0,821.1 147.1,820.1 147.2,818.7 147.3,817.7 147.4,818.0 147.5,815.8 147.6,814.8 147.7,813.9 147.8,812.9 147.9,812.6 148.0,811.7 148.1,809.4 148.2,809.8 148.3,808.8 148.4,806.9 148.5,806.0 148.6,805.0 148.7,804.1 148.8,803.6 148.8,805.0 148.9,801.6 149.0,800.6 149.1,799.6 149.2,798.6 149.3,797.3 149.3,796.3 149.4,794.8 149.5,793.8 149.6,792.7 149.6,791.6 149.7,788.6 149.8,789.9 149.9,788.8 149.9,787.8 150.0,787.2 150.1,786.1 150.1,785.0 150.2,783.5 150.3,782.4 150.3,781.3 150.4,780.3 150.4,777.3 150.5,778.2 150.6,777.8 150.6,776.8 150.7,775.8 150.8,774.6 150.8,774.9 150.9,772.6 150.9,771.6 151.0,770.7 151.1,769.7 151.1,767.8 151.2,769.4 151.3,766.0 151.3,765.1 151.4,764.2 151.5,763.0 151.6,762.2 151.7,761.0 151.8,759.9 151.9,758.8 152.0,757.7 152.1,756.7 152.2,755.7 152.3,757.2 152.4,753.8 152.5,752.8 152.6,752.3 152.7,751.4 152.8,750.4 152.9,748.3 153.0,747.3 153.1,746.4 153.2,748.4 153.3,745.0 153.4,744.0 153.6,743.1 153.7,742.1 153.8,741.1 153.9,740.3 154.1,739.3 154.2,738.3 154.4,737.2 154.5,736.2 154.7,734.9 154.8,733.9 155.0,732.9 155.1,733.6 155.3,730.8 155.5,729.7 155.6,729.9 155.8,729.3 156.0,728.3 156.1,727.3 156.3,726.2 156.4,725.2 156.6,722.1 156.7,722.0 156.9,721.0 157.0,719.3 157.2,716.5 157.3,717.3 157.4,718.6 157.5,717.5 157.7,716.4 157.8,714.0 157.9,712.9 158.0,710.4 158.1,709.1 158.2,708.0 158.3,706.8 158.4,705.7 158.5,704.5 158.6,704.1 158.7,703.0 158.8,702.0 158.9,701.6 159.0,700.6 159.1,699.6 159.2,698.7 159.3,697.8 159.4,698.4 159.4,695.7 159.5,695.1 159.6,694.5 160.1,693.7 161.0,692.6 161.6,690.6 162.3,692.2 163.1,691.5 164.0,690.8 165.0,690.0 166.0,689.5 167.0,686.9 167.7,686.3 168.4,685.5 169.1,684.7 169.9,685.1 170.6,684.2 171.4,683.6 172.2,682.8 173.0,681.8 173.8,681.3 174.6,681.0 175.3,680.8 176.0,681.0 176.8,680.3 177.5,680.9 178.3,684.6 179.0,683.6 179.7,684.6 180.5,685.5 181.2,686.5 181.9,687.3 182.5,685.8 183.2,687.7 184.2,691.0 185.2,690.6 186.2,689.6 187.1,690.2 188.0,691.0 188.8,691.7 189.5,694.2 189.9,693.6 190.2,694.4 190.4,693.6 190.6,696.8 190.8,697.9 191.0,699.0 191.2,700.1 191.5,701.2 191.8,701.6 192.2,702.6 192.7,703.5 193.3,704.3 193.9,705.0 194.6,707.5 195.3,708.2 196.1,708.8 197.0,708.9 197.8,709.5 198.7,708.6 199.6,710.7 200.5,711.3 201.3,711.9 202.2,712.8 203.0,711.3 203.8,714.3 204.7,714.9 205.5,715.6 206.4,713.6 207.3,716.0 208.1,717.3 209.0,716.2 209.9,718.5 210.7,719.1 211.6,719.6 212.4,720.2 213.2,720.7 214.2,720.6 215.2,721.1 216.3,721.6 217.3,721.7 218.2,722.1 219.2,721.8 220.1,722.2 221.0,722.7 221.9,724.0 222.7,724.6 223.5,726.6 224.3,727.5 225.0,728.5 225.6,729.5 226.3,730.6 226.9,731.5 227.6,731.4 228.2,732.0 229.0,732.3 229.9,732.4 230.8,732.1 231.7,731.7 232.7,731.5 233.6,730.9 234.7,728.3 235.7,729.0 236.9,728.6 237.8,728.3 238.8,728.1 239.8,728.1 240.9,727.9 242.0,727.8 243.1,727.6 244.1,727.4 245.2,727.3 246.2,729.7 247.1,727.3 248.0,727.2 249.2,727.0 250.3,726.5 251.3,726.4 252.2,726.4 253.1,726.3 254.0,726.2 255.0,726.1 256.0,725.6 257.0,725.5 258.0,725.4 259.0,725.3 260.0,725.2 261.0,725.1 262.0,724.9 263.0,726.3 264.1,725.1 265.2,725.1 266.2,722.6 267.2,726.7 268.2,724.1 269.0,723.6 269.6,722.9 270.2,722.6 270.6,721.6 271.1,720.4 271.5,719.1 271.9,718.0 272.4,716.9 273.0,716.1 273.8,715.3 274.6,713.3 275.5,714.4 276.4,713.9 277.3,710.1 278.2,711.9 279.0,711.4 280.0,710.8 281.0,711.3 282.0,710.8 282.9,710.2 283.8,710.8 284.5,708.0 284.8,707.3 285.0,706.5 285.2,704.9 285.4,703.9 285.5,702.9 285.7,702.4 285.8,701.3 285.9,700.2 286.1,699.1 286.3,698.1 286.6,697.1 286.9,696.0 287.2,695.1 287.6,693.6 288.0,692.8 288.4,692.0 288.9,689.6 289.3,689.2 289.8,690.4 290.3,689.5 290.8,688.6 291.3,687.7 291.8,686.4 292.4,685.3 292.9,684.2 293.2,683.0 293.6,682.2 294.0,681.4 294.3,680.5 294.7,679.6 295.1,678.7 295.5,679.3 295.9,676.5 296.3,675.5 296.7,674.5 297.1,673.5 297.5,672.5 297.9,671.8 298.3,670.8 298.7,669.8 299.1,666.9 299.5,668.1 299.8,667.1 300.2,665.5 300.6,664.5 300.9,663.5 301.2,662.5 301.6,662.1 301.9,661.1 302.3,662.5 302.6,658.9 302.9,657.8 303.2,658.5 303.5,655.9 303.8,653.3 304.1,652.3 304.4,651.2 304.7,651.4 305.0,650.4 305.3,649.4 305.6,648.4 305.9,647.5 306.1,647.7 306.4,646.8 306.6,645.2 306.9,644.5 307.5,642.9 308.0,639.2 308.5,640.0 309.0,639.1 309.4,638.3 309.9,637.6 310.4,636.2 311.0,635.4 311.6,634.5 312.2,633.5 312.8,632.4 313.5,632.7 314.2,631.8 314.9,629.9 315.5,629.2 316.2,628.8 316.9,628.6 317.6,628.8 318.2,629.1 318.8,629.9 319.5,630.7 320.1,631.5 320.8,634.1 321.4,633.6 322.1,636.0 322.9,633.7 323.3,636.5 323.8,638.4 324.3,634.1 324.8,637.4 325.4,640.0 325.9,643.4 326.4,641.7 327.0,642.6 327.5,643.1 328.0,644.0 328.6,645.1 329.1,646.1 329.5,647.1 330.0,648.1 330.4,649.1 330.8,649.8 331.1,650.7 331.4,651.6 331.6,652.7 331.8,653.6 332.1,654.6 332.3,655.6 332.5,655.8 332.7,656.8 332.9,657.9 333.0,660.6 333.2,661.7 333.4,662.8 333.6,661.7 333.7,664.9 333.9,665.9 334.1,666.3 334.2,667.3 334.4,668.3 334.6,667.6 334.8,670.1 335.0,671.2 335.3,672.0 335.5,673.0 335.8,674.1 336.0,675.1 336.2,677.7 336.4,676.7 336.7,677.7 336.9,678.7 337.2,679.7 337.4,680.6 337.7,681.6 337.9,683.0 338.2,684.0 338.5,684.9 338.8,685.7 339.2,684.8 339.6,687.8 340.0,688.3 340.4,687.3 340.9,690.3 341.3,691.2 341.8,692.7 342.3,693.6 342.8,694.5 343.3,695.0 343.8,695.8 344.3,696.6 344.8,697.9 345.4,698.7 346.0,699.6 346.6,700.4 347.1,701.0 347.7,701.8 348.4,702.5 349.0,703.2 349.8,703.9 350.5,704.6 351.4,705.3 352.4,708.6 353.1,706.5 353.9,707.0 354.7,707.5 355.5,707.7 356.4,708.2 357.3,708.7 358.3,709.2 359.3,709.7 360.2,710.9 361.2,711.4 362.2,711.9 363.1,712.4 364.1,711.7 365.0,712.3 365.8,712.8 366.6,713.4 367.4,714.1 368.2,715.8 369.0,716.5 369.7,717.3 370.4,718.1 371.0,718.9 371.6,719.8 372.3,720.1 372.9,722.2 373.5,721.0 374.1,721.9 374.7,722.7 375.3,723.6 376.0,724.5 376.7,726.3 377.4,727.2 378.1,727.9 378.8,728.7 379.5,729.4 380.2,730.2 381.0,730.9 381.7,731.7 382.5,732.4 383.3,733.2 384.0,734.0 384.8,734.7 385.6,735.9 386.3,736.6 387.1,737.3 387.8,738.1 388.5,738.8 389.2,739.4 389.9,740.4 390.7,741.2 391.4,742.0 392.2,743.1 392.9,743.9 393.6,744.6 394.2,745.3 394.9,745.8 395.6,746.5 396.2,747.2 396.9,747.9 397.6,748.5 398.4,749.6 399.1,750.2 399.9,750.8 400.8,751.3 401.6,751.9 402.5,751.9 403.4,752.3 404.3,752.7 405.2,752.8 406.2,753.1 407.1,753.1 408.1,753.5 409.1,753.8 410.2,754.0 411.3,754.3 412.4,754.6 413.3,755.1 414.2,755.3 415.1,755.5 416.1,755.6 417.1,754.8 418.1,755.0 419.1,757.7 420.1,755.3 421.2,755.4 422.2,756.2 423.3,756.3 424.3,756.3 425.4,756.4 426.5,756.5 427.6,756.6 428.7,757.6 429.8,757.8 430.7,757.9 431.7,758.0 432.6,758.4 433.6,758.5 434.5,758.2 435.5,758.4 436.4,758.5 437.4,758.7 438.3,758.8 439.3,758.9 440.3,759.1 441.3,759.2 442.3,759.3 443.4,759.4 444.4,759.6 445.4,759.7 446.5,759.1 447.6,759.2 448.7,760.8 449.8,760.9 450.7,760.9 451.7,758.7 452.7,758.8 453.7,758.9 454.8,760.4 455.9,760.4 457.0,763.1 458.1,760.2 459.3,760.3 460.4,761.2 461.5,761.3 462.7,760.1 463.8,760.1 464.9,760.2 466.0,760.2 467.1,760.3 468.1,760.6 469.1,760.6 470.1,760.7 471.0,760.7 471.9,760.7 472.7,760.7 473.5,760.7 474.2,761.7 474.8,761.7 477.0,761.6 477.9,761.1 478.3,760.8 478.8,760.6 480.0,760.6 480.7,760.7 481.6,760.9 482.5,760.4 483.4,760.7 484.4,761.8 485.4,762.1 486.5,762.4 487.6,762.7 488.7,763.0 489.8,763.1 490.9,761.8 492.0,761.8 493.0,761.7 493.9,760.0 494.8,758.6 495.8,760.7 496.8,760.2 497.7,758.4 498.7,759.0 499.7,758.8 500.6,756.5 501.6,757.6 502.5,757.1 503.5,756.6 504.3,756.8 505.2,756.5 506.0,756.3 506.8,756.3 507.7,756.4 508.6,755.9 509.3,756.5 509.9,757.3 510.5,758.1 511.1,759.0 511.8,759.9 512.5,761.8 513.4,762.6 514.5,763.2 515.7,761.6 516.4,764.0 517.2,764.1 518.1,764.3 519.0,764.4 519.9,764.5 520.8,764.2 521.8,764.3 522.9,764.3 523.9,764.4 525.0,763.3 526.0,761.0 527.1,763.4 528.2,763.4 529.3,763.4 530.4,763.3 531.5,766.5 532.6,764.7 533.7,765.2 534.7,765.2 535.8,765.2 536.8,765.2 537.8,765.1 538.8,764.9 539.8,764.9 540.9,764.3 541.9,764.2 542.9,764.2 544.0,764.1 545.0,763.4 546.1,763.3 547.1,763.9 548.1,763.9 549.1,763.8 550.2,763.7 551.2,764.6 552.2,764.5 553.1,764.4 554.1,764.3 555.1,764.1 556.0,764.0 556.9,761.9 557.8,763.9 558.9,761.6 560.0,761.4 561.1,761.2 562.1,761.0 563.1,761.8 564.1,761.5 565.0,761.3 566.0,758.9 566.9,760.7 567.9,759.5 568.9,759.2 569.8,758.9 570.8,758.6 571.8,758.3 572.9,758.1 574.0,759.2 575.0,759.0 575.9,758.8 576.9,758.6 577.9,756.1 579.0,755.9 580.0,756.7 581.1,756.4 582.1,756.2 583.2,756.0 584.3,755.8 585.4,757.0 586.4,756.8 587.5,754.4 588.5,756.0 589.6,755.8 590.6,755.6 591.6,755.3 592.5,755.0 593.5,754.8 594.6,753.5 595.7,755.0 596.8,752.9 597.9,754.5 599.0,753.3 600.0,753.0 601.1,753.3 602.1,753.0 603.1,752.6 604.1,752.3 605.1,752.0 606.1,750.7 607.0,748.7 607.9,750.1 608.8,750.7 609.7,750.4 610.8,750.0 611.8,749.5 612.8,749.0 613.7,748.5 614.6,747.5 615.5,747.0 616.4,746.5 617.2,748.6 618.1,745.4 619.1,745.1 620.1,744.1 621.1,744.0 622.1,745.8 623.1,744.0 624.2,743.7 625.3,743.9 626.4,744.1 627.6,742.5 628.7,747.6 629.8,746.3 631.0,746.6 632.0,746.9 633.0,746.9 634.0,747.2 634.9,749.6 635.7,749.7 636.8,748.4 637.7,749.0 638.4,749.7 639.0,750.3 639.5,751.8 640.2,752.6 641.1,753.4 642.2,753.1 642.8,753.6 643.4,755.1 644.1,755.7 644.8,756.4 645.6,757.1 646.3,757.8 647.1,757.4 647.9,758.2 648.7,758.9 649.6,759.7 650.4,760.4 651.3,761.2 652.2,761.4 653.1,762.1 654.0,762.8 654.9,763.4 655.8,765.6 656.7,766.2 657.6,766.7 658.5,767.1 659.5,769.5 660.5,767.9 661.5,767.5 662.5,767.8 663.5,768.1 664.5,768.4 665.5,768.7 666.6,766.6 667.6,769.2 668.6,769.4 669.7,769.9 670.7,770.2 671.7,770.4 672.7,770.8 673.6,771.1 674.6,771.3 675.7,769.8 676.7,771.8 677.7,772.6 678.8,772.8 679.8,773.0 680.8,773.2 681.8,774.0 682.8,774.1 683.8,774.3 684.8,777.0 685.8,773.6 686.8,773.7 687.8,773.9 688.8,774.1 689.8,774.3 690.8,774.5 691.8,775.4 692.8,775.6 693.9,774.9 694.9,776.7 696.0,776.9 697.0,776.5 698.1,776.7 699.1,776.9 700.1,777.1 701.2,777.3 702.2,779.4 703.2,777.5 704.2,777.7 705.1,776.6 706.1,776.8 707.0,776.9 708.1,778.5 709.1,778.6 710.2,779.3 711.1,779.4 712.1,780.9 713.0,779.6 714.0,779.7 714.9,779.8 715.9,778.9 716.8,779.0 717.9,779.0 718.9,779.2 720.0,779.2 720.9,779.1 721.9,779.1 722.8,779.0 723.8,778.9 724.8,778.8 725.8,779.1 726.9,779.0 727.9,778.9 728.9,777.8 730.0,777.7 731.0,777.6 732.1,778.6 733.1,776.9 734.2,776.9 735.2,776.9 736.2,777.0 737.2,777.4 738.2,777.5 739.2,777.7 740.2,778.0 741.3,778.2 742.3,778.5 743.3,780.2 744.3,780.5 745.3,779.6 746.3,779.9 747.3,780.2 748.4,780.5 749.4,780.8 750.4,781.0 751.4,782.8 752.4,783.0 753.4,783.2 754.4,783.3 755.3,783.5 756.3,783.6 757.2,783.4 758.1,783.5 759.0,783.6 760.0,783.7 760.9,781.5 761.9,786.4 762.9,785.6 764.0,784.0 765.1,781.2 766.2,783.8 767.4,783.8 768.6,783.8 769.5,783.9 770.3,784.1 771.3,784.1 772.2,784.1 773.1,783.8 774.1,783.7 775.1,783.7 776.1,783.8 777.2,783.7 778.2,783.6 779.2,783.6 780.3,783.2 781.4,783.1 782.4,783.0 783.5,783.8 784.6,783.7 785.6,783.7 786.7,783.6 787.8,783.6 788.8,783.6 789.9,782.2 790.9,782.2 792.0,782.2 793.0,782.2 794.0,782.2 795.0,782.2 796.0,782.6 797.0,782.7 797.9,782.7 798.9,783.5 799.9,783.6 800.8,783.7 801.8,783.8 802.7,782.9 803.7,782.9 804.6,783.0 805.6,785.1 806.6,783.2 807.6,784.1 808.6,784.2 809.6,784.3 810.7,784.4 811.7,784.5 812.8,783.5 813.9,783.6 815.0,783.7 816.1,783.4 817.3,783.4 818.2,783.5 819.1,785.4 820.1,785.4 821.0,785.5 822.0,785.5 823.0,785.4 824.0,786.8 825.0,785.5 826.1,787.5 827.1,785.5 828.2,785.4 829.2,785.5 830.3,785.5 831.4,785.6 832.4,787.2 833.5,784.9 834.6,785.0 835.6,787.1 836.7,784.5 837.8,784.6 838.8,784.6 839.9,784.6 840.9,787.3 842.0,785.4 843.0,784.9 844.0,784.9 845.0,784.9 846.0,785.6 846.9,785.6 847.9,785.6 848.8,785.5 849.7,785.5 850.9,785.4 852.0,786.1 853.2,786.0 854.3,785.9 855.5,785.4 856.6,785.3 857.7,785.1 858.8,784.4 859.9,784.3 861.0,784.1 862.0,784.0 863.1,782.4 864.1,783.6 865.1,784.2 866.1,784.0 867.0,783.8 868.0,783.7 868.9,782.4 869.8,782.2 870.7,782.1 871.6,782.6 872.4,784.1 873.2,782.3 874.0,782.2 875.4,782.0 876.7,779.3 877.9,780.4 879.0,780.3 880.1,780.2 881.0,781.6 882.0,781.5 882.9,781.0 883.7,780.9 884.6,780.7 885.4,780.6 886.2,780.4 887.0,781.2 888.1,780.8 889.1,780.3 890.0,779.7 890.9,779.1 891.7,778.4 892.5,777.1 893.3,776.4 894.1,775.7 895.0,775.1 895.8,774.5 896.4,773.8 897.0,773.1 897.6,772.2 898.2,771.6 899.0,768.4 900.1,770.5 901.4,770.1 903.2,769.8 903.9,769.0 904.7,769.0 905.5,769.0 906.4,769.0 907.3,769.0 908.2,771.1 909.3,771.2 910.3,771.3 911.4,771.4 912.5,771.5 913.6,771.0 914.8,769.9 915.9,771.1 917.1,771.2 918.3,769.2 919.4,771.5 920.6,771.7 921.7,771.8 922.9,773.7 924.0,771.0 925.1,771.1 926.1,771.1 927.1,771.1 928.1,771.2 929.1,772.4 930.0,772.3 930.8,772.3 932.1,772.1 933.2,771.9 934.4,771.1 935.5,770.8 936.5,770.5 937.5,770.1 938.4,769.3 939.4,768.8 940.3,768.4 941.1,768.0 942.0,767.4 942.8,767.0 943.6,766.6 944.5,766.3 945.3,765.9 946.1,765.6 947.0,766.1 948.1,767.5 949.2,765.7 950.4,765.6 951.5,764.5 952.6,764.4 953.6,764.4 954.7,764.4 955.7,764.4 956.6,764.4 957.5,764.3 958.4,764.3 959.2,765.5 960.0,765.5 961.4,765.3 962.5,765.2 963.4,765.1 964.2,764.9 965.1,762.7 966.0,764.1 967.0,763.7 968.1,763.2 969.1,762.6 970.2,762.0 971.2,761.5 972.2,761.4 973.0,761.7 973.9,762.1 974.7,761.4 975.5,762.8 976.3,763.5 977.0,764.3 977.8,763.5 978.3,766.6 978.8,767.5 979.3,768.6 979.8,769.7 980.2,770.7 980.7,771.5 981.3,772.4 981.9,773.1 982.7,773.6 983.5,775.2 984.3,773.8 985.0,773.7 985.9,771.4 986.8,773.1 987.9,772.7 989.2,772.2 990.7,771.9 992.4,771.7 993.1,771.7 993.9,770.5 994.7,771.9 995.6,771.9 996.5,772.7 997.5,772.7 998.4,771.6 999.4,769.8 1000.5,773.0 1001.5,773.0 1002.6,773.1 1003.7,773.1 1004.8,773.1 1005.9,775.0 1007.0,772.9 1008.1,772.9 1009.2,772.9 1010.4,772.9 1011.5,772.4 1012.6,772.4 1013.7,772.4 1014.7,772.4 1015.8,772.7 1016.8,770.1 1017.8,772.2 1018.9,772.1 1019.9,772.0 1020.9,772.8 1022.0,772.7 1023.1,772.6 1024.1,772.5 1025.2,771.2 1026.3,771.1 1027.3,771.0 1028.4,770.9 1029.5,770.8 1030.5,770.7 1031.6,771.0 1032.6,768.3 1033.6,770.7 1034.6,770.5 1035.6,770.5 1036.6,770.4 1037.5,770.3 1038.5,771.6 1039.4,771.4 1040.2,771.3 1041.1,771.2 1042.3,771.1 1043.5,770.9 1044.6,769.4 1045.7,771.8 1046.8,769.0 1047.8,768.9 1048.7,769.0 1049.7,768.9 1050.6,766.5 1051.6,768.5 1052.5,768.4 1053.4,766.8 1054.4,766.7 1055.3,766.6 1056.3,766.4 1057.3,766.4 1058.3,767.1 1059.3,767.1 1060.2,767.0 1061.2,768.4 1062.1,766.9 1063.0,766.9 1064.0,767.9 1064.9,767.9 1065.9,768.5 1066.8,768.6 1067.8,768.6 1068.9,766.3 1070.0,766.3 1071.1,766.4 1072.3,766.4 1073.5,766.5 1074.4,767.9 1075.3,768.0 1076.2,770.5 1077.2,765.6 1078.2,768.3 1079.2,768.2 1080.2,768.3 1081.3,768.4 1082.4,768.6 1083.5,768.7 1084.6,768.4 1085.6,768.5 1086.7,768.7 1087.8,768.8 1088.9,768.5 1090.0,768.7 1091.1,768.8 1092.1,770.6 1093.1,770.8 1094.1,771.0 1095.1,771.1 1096.0,769.7 1096.9,769.8 1097.8,770.0 1099.0,770.3 1100.2,770.5 1101.2,771.6 1102.2,771.9 1103.2,772.2 1104.1,772.5 1105.0,771.4 1105.9,773.4 1106.8,773.7 1107.7,774.0 1108.6,774.3 1109.6,777.1 1110.6,774.7 1111.6,772.8 1112.8,775.4 1114.0,775.5 1114.8,775.7 1115.7,775.9 1116.5,776.1 1117.4,776.3 1118.4,776.5 1119.3,777.1 1120.2,777.3 1121.2,777.6 1122.2,777.8 1123.2,778.1 1124.2,778.3 1125.2,778.5 1126.2,778.8 1127.2,779.1 1128.3,779.3 1129.3,779.5 1130.3,779.8 1131.3,780.0 1132.4,780.2 1133.4,780.4 1134.4,779.1 1135.4,780.9 1136.4,781.6 1137.4,781.9 1138.4,781.5 1139.4,781.8 1140.4,782.0 1141.4,782.3 1142.5,782.5 1143.5,783.0 1144.5,783.2 1145.5,783.5 1146.5,783.7 1147.5,783.7 1148.5,783.9 1149.5,781.4 1150.6,784.7 1151.6,783.6 1152.6,783.8 1153.6,784.1 1154.6,784.3 1155.6,784.7 1156.6,784.9 1157.6,785.2 1158.7,785.4 1159.7,785.6 1160.7,788.2 1161.7,786.5 1162.7,786.7 1163.7,786.5 1164.7,786.8 1165.7,788.3 1166.7,787.3 1167.7,787.5 1168.7,787.7 1169.7,789.3 1170.7,789.5 1171.7,789.7 1172.7,789.4 1173.7,789.6 1174.7,792.4 1175.7,790.1 1176.8,791.0 1177.8,791.2 1178.8,791.5 1179.8,790.2 1180.8,790.4 1181.8,790.7 1182.9,792.2 1183.9,792.4 1184.9,792.6 1186.0,792.9 1187.0,793.1 1188.0,793.3 1188.9,792.5 1189.9,792.7 1190.9,794.7 1191.9,793.1 1192.9,793.4 1193.9,794.7 1194.9,794.9 1195.9,793.5 1197.0,795.3 1198.0,795.6 1199.0,795.8 1200.0,795.3 1201.0,795.5 1202.0,795.7 1203.0,796.6 1204.1,796.8 1205.1,797.0 1206.1,797.2 1207.1,797.4 1208.1,797.6 1209.1,796.8 1210.1,797.0 1211.1,798.2 1212.0,796.3 1213.0,798.6 1214.0,798.9 1215.1,799.1 1216.1,799.4 1217.1,799.7 1218.0,798.7 1219.0,798.9 1220.0,799.2 1220.9,799.4 1221.9,799.6 1222.8,799.8 1223.8,801.7 1224.8,801.9 1225.7,803.2 1226.7,801.7 1227.7,801.9 1228.7,802.2 1229.7,802.4 1230.7,802.1 1231.7,802.3 1232.8,804.8 1233.9,802.6 1235.0,802.8 1236.1,802.4 1237.3,802.5 1238.2,804.8 1239.1,802.3 1240.0,803.1 1241.0,803.2 1241.9,803.3 1242.9,801.9 1243.8,803.5 1244.8,804.0 1245.8,804.0 1246.8,804.1 1247.8,804.2 1248.9,804.7 1249.9,804.7 1250.9,804.8 1251.9,804.0 1253.0,804.0 1254.0,804.1 1255.1,804.1 1256.1,804.2 1257.2,805.2 1258.2,805.2 1259.3,804.6 1260.3,804.6 1261.4,804.0 1262.5,805.9 1263.5,804.1 1264.5,804.1 1265.6,804.2 1266.6,804.8 1267.7,804.8 1268.7,804.8 1269.7,804.9 1270.7,804.9 1271.7,804.9 1272.7,806.4 1273.6,807.2 1274.6,805.2 1275.5,805.2 1276.5,805.5 1277.4,805.5 1278.3,805.5 1279.3,805.5 1280.2,804.9 1281.1,804.9 1282.0,804.9 1283.0,806.2 1283.9,806.7 1284.9,805.5 1285.8,805.5 1286.8,805.5 1287.8,805.5 1288.7,802.4 1289.7,803.8 1290.8,803.8 1291.8,804.7 1292.9,804.6 1293.9,804.6 1295.0,804.6 1296.2,804.6 1297.3,807.2 1298.5,804.8 1299.7,804.8 1300.9,807.3 1302.2,804.8 1303.1,805.6 1303.9,805.6 1304.9,804.6 1305.8,804.6 1306.8,804.6 1307.8,804.6 1308.8,804.6 1309.9,804.6 1311.0,805.1 1312.1,805.0 1313.2,802.4 1314.3,804.3 1315.5,804.2 1316.6,804.2 1317.8,804.2 1319.0,805.0 1320.2,805.0 1321.3,805.0 1322.5,805.0 1323.7,805.2 1324.9,805.1 1326.1,805.1 1327.3,805.1 1328.5,805.1 1329.7,803.4 1330.9,803.4 1332.1,803.4 1333.2,804.5 1334.4,804.5 1335.5,804.5 1336.6,804.4 1337.7,804.4 1338.8,802.6 1339.9,804.4 1340.9,804.4 1341.9,804.3 1342.9,806.2 1343.8,806.7 1344.8,805.9 1345.7,804.4 1346.5,804.4 1347.3,804.4 1348.1,804.3 1348.9,804.3 1349.6,801.8 1350.3,804.1 1350.9,804.1 1351.5,806.6 1352.0,804.1"/>
<polyline points="139.8,930.7 139.9,930.2 140.0,929.6 140.1,929.0 140.3,928.3 140.4,927.6 140.6,926.6 140.7,925.7 140.9,924.7 141.1,923.6 141.3,922.4 141.5,920.7 141.7,919.2 141.9,917.7 142.1,916.0 142.2,915.3 142.3,914.5 142.4,914.4 142.5,912.1 142.6,911.3 142.6,910.4 142.7,909.2 142.8,908.3 142.9,908.4 143.0,907.4 143.1,906.4 143.2,905.4 143.4,904.2 143.5,903.2 143.6,902.1 143.7,901.4 143.8,901.7 143.9,898.9 144.0,897.8 144.1,896.7 144.2,895.6 144.3,894.5 144.4,893.3 144.5,892.4 144.6,891.3 144.8,890.2 144.9,889.0 145.0,887.9 145.1,887.3 145.2,886.2 145.3,883.1 145.4,884.5 145.5,881.0 145.6,879.9 145.7,878.7 145.8,877.7 145.9,879.0 146.0,875.7 146.1,876.6 146.2,876.3 146.3,872.3 146.4,876.0 146.5,870.4 146.6,869.4 146.7,868.4 146.8,867.4 146.9,867.8 147.0,866.8 147.1,864.7 147.2,863.7 147.3,862.7 147.4,861.9 147.5,860.9 147.6,859.9 147.7,858.9 147.8,859.7 147.9,856.9 148.0,858.0 148.1,857.0 148.2,854.5 148.3,855.0 148.4,853.9 148.5,852.9 148.6,851.9 148.7,850.9 148.8,849.9 148.9,848.9 149.0,847.1 149.1,846.1 149.2,844.6 149.3,843.6 149.4,842.6 149.5,841.6 149.6,840.3 149.7,840.5 149.8,838.2 149.9,837.2 150.0,836.2 150.1,835.4 150.2,832.0 150.3,835.6 150.4,833.3 150.5,830.4 150.6,829.4 150.7,828.4 150.8,827.4 151.0,826.4 151.1,822.8 151.2,823.3 151.3,827.0 151.4,823.5 151.5,822.5 151.6,821.4 151.7,820.4 151.8,818.7 151.9,819.3 152.0,818.3 152.1,817.2 152.2,812.9 152.3,814.4 152.4,813.4 152.5,812.4 152.6,811.4 152.7,811.0 152.8,810.0 152.9,808.9 153.0,807.9 153.1,806.8 153.2,805.6 153.3,804.5 153.4,803.5 153.5,800.3 153.6,799.2 153.7,800.1 153.8,799.0 153.9,796.8 154.0,795.7 154.1,794.6 154.2,793.6 154.3,792.5 154.4,791.4 154.5,790.8 154.6,789.8 154.7,788.7 154.8,787.7 154.9,786.4 155.0,785.4 155.1,784.5 155.2,784.1 155.3,783.2 155.4,782.3 155.5,780.7 155.6,779.8 155.7,777.0 155.8,778.1 155.9,776.9 156.0,776.2 156.1,775.5 156.3,773.9 156.5,773.3 156.7,769.6 156.9,770.8 157.1,770.4 157.3,769.3 157.5,768.4 157.7,767.5 157.9,766.7 158.2,765.9 158.4,763.4 158.6,762.7 158.9,761.9 159.2,761.1 159.5,762.4 160.0,761.3 160.5,760.2 161.1,759.2 161.7,757.4 162.3,756.5 162.9,755.6 163.5,754.3 164.2,752.2 164.7,752.8 165.3,752.1 165.8,751.5 166.7,750.3 167.5,749.9 168.3,749.3 169.1,748.7 170.0,747.2 170.9,746.7 171.9,746.2 172.9,745.8 174.0,745.4 175.1,745.2 176.1,745.2 177.1,745.4 178.1,745.7 179.1,746.2 180.0,746.7 181.0,747.4 182.0,748.9 182.8,749.5 183.5,750.1 184.3,752.4 185.1,751.4 185.9,751.8 186.6,752.6 187.3,753.5 187.9,754.4 188.3,755.2 188.6,756.1 188.9,757.4 189.1,760.3 189.3,759.4 189.5,761.5 189.8,762.5 190.1,763.4 190.5,764.4 191.1,765.2 191.7,764.1 192.4,764.8 193.2,765.4 194.0,766.6 194.8,767.1 195.7,767.6 196.7,768.2 197.6,768.7 198.6,770.5 199.6,769.7 200.6,770.2 201.4,770.7 202.2,771.1 203.1,772.3 204.0,772.8 204.9,771.8 205.8,772.2 206.7,772.7 207.6,773.1 208.6,773.6 209.5,774.0 210.4,775.8 211.4,776.2 212.3,776.7 213.2,777.2 214.1,778.5 215.0,779.1 216.0,779.7 216.9,780.4 217.9,778.5 218.8,779.2 219.7,779.9 220.7,780.5 221.6,782.4 222.5,780.4 223.4,783.2 224.3,781.3 225.1,782.1 225.9,784.3 227.1,784.5 228.2,785.5 229.3,785.4 230.3,785.2 231.3,784.9 232.3,784.5 233.3,784.2 234.3,782.8 235.3,782.5 236.2,782.3 237.2,781.9 238.1,781.5 239.1,782.7 240.0,782.3 240.9,781.9 241.9,781.5 242.9,780.1 243.8,782.0 244.8,779.9 245.8,780.0 246.8,780.3 247.9,780.9 249.0,781.4 250.1,781.9 251.1,782.7 252.2,783.1 253.2,782.8 254.1,780.8 255.0,783.4 256.2,783.4 257.2,783.3 258.1,783.0 259.0,783.8 259.9,782.0 260.9,779.3 262.0,781.3 262.8,780.9 263.7,778.0 264.7,780.4 265.6,779.8 266.6,779.3 267.6,778.7 268.5,777.0 269.4,776.4 270.3,775.9 271.0,775.3 271.9,774.5 272.8,774.1 273.5,773.3 274.2,774.1 274.8,771.6 275.4,770.9 276.0,770.2 276.7,769.4 277.4,768.8 278.0,768.6 278.5,766.5 279.0,765.0 279.2,764.3 279.3,760.6 279.3,762.0 279.4,761.1 279.4,760.1 279.5,759.9 279.5,758.8 279.6,757.7 279.7,758.2 279.8,757.1 280.0,756.0 280.2,755.0 280.5,753.9 280.9,751.6 281.3,750.8 281.9,749.9 282.5,749.1 283.1,748.3 283.9,747.5 284.6,747.8 285.4,747.0 286.2,746.3 286.9,745.5 287.7,744.7 288.5,743.9 289.2,742.5 289.8,741.6 290.4,740.1 290.9,739.3 291.4,739.8 291.8,738.9 292.1,736.8 292.4,735.8 292.7,734.9 292.9,734.9 293.1,734.0 293.4,733.0 293.6,732.0 293.8,730.3 294.0,729.2 294.3,728.1 294.6,727.0 294.9,725.8 295.2,724.9 295.4,724.0 295.7,723.1 296.0,722.2 296.3,721.2 296.6,720.2 296.9,719.0 297.2,718.0 297.5,716.9 297.8,715.9 298.1,714.9 298.4,713.0 298.7,712.0 299.0,710.9 299.4,709.9 299.7,708.8 300.0,709.7 300.3,708.7 300.6,707.7 300.9,706.7 301.2,704.4 301.5,703.3 301.8,702.3 302.1,701.2 302.5,700.2 302.8,699.9 303.1,698.8 303.4,697.8 303.7,697.2 304.0,696.1 304.4,695.0 304.7,695.6 305.0,693.0 305.3,692.0 305.6,691.2 305.9,690.2 306.1,689.3 306.4,687.6 306.7,686.8 306.9,686.1 307.3,684.8 307.7,683.5 308.0,682.3 308.4,681.3 308.7,679.3 308.9,680.1 309.2,677.4 309.5,676.6 309.8,676.6 310.2,675.9 310.5,675.2 311.2,674.7 311.9,673.5 312.7,672.5 313.5,671.7 314.2,670.8 314.9,670.5 315.8,670.5 316.7,669.3 317.6,670.8 318.5,672.2 318.9,672.8 319.4,673.5 319.8,674.1 320.2,674.9 320.7,676.8 321.1,677.8 321.7,679.0 322.3,680.5 322.9,682.1 323.2,681.9 323.4,682.6 323.7,683.7 324.0,682.7 324.3,684.0 324.6,686.1 324.9,688.9 325.2,689.7 325.5,690.6 325.8,691.6 326.1,692.6 326.5,692.2 326.8,693.2 327.1,694.7 327.5,695.7 327.8,696.8 328.1,697.8 328.5,698.9 328.8,699.0 329.2,700.1 329.5,701.2 329.8,702.2 330.2,703.3 330.5,704.3 330.8,702.8 331.1,706.0 331.4,705.0 331.6,707.9 331.9,708.9 332.2,709.9 332.5,712.0 332.8,713.0 333.1,712.8 333.3,713.9 333.6,714.9 333.9,715.8 334.2,716.9 334.5,717.9 334.8,718.9 335.1,720.0 335.3,721.0 335.6,723.4 335.9,724.6 336.2,725.6 336.5,726.5 336.7,727.5 337.0,726.6 337.3,727.5 337.5,729.8 337.8,730.6 338.1,730.6 338.3,734.7 338.6,731.5 338.8,734.9 339.3,735.1 339.7,736.4 340.2,737.6 340.7,738.8 341.1,739.5 341.6,740.6 342.0,741.6 342.4,743.7 342.8,743.2 343.2,743.6 343.6,745.6 343.9,746.5 344.2,747.1 344.5,747.6 344.8,748.1 345.2,748.5 346.2,747.7 346.8,748.3 347.6,748.5 348.5,748.6 349.5,747.9 350.6,748.2 351.7,748.4 352.8,748.8 354.0,749.2 355.2,749.7 356.3,751.2 357.4,752.0 358.1,750.9 358.7,751.4 359.4,752.0 360.1,752.7 360.8,753.4 361.6,754.1 362.3,755.6 363.0,756.3 363.7,758.2 364.4,759.0 365.2,758.5 365.9,760.7 366.6,760.2 367.3,761.1 367.9,761.9 368.6,762.8 369.3,764.0 369.9,764.8 370.5,765.6 371.1,767.3 371.7,768.1 372.2,768.9 372.8,769.4 373.3,770.2 373.9,771.0 374.4,772.0 374.9,772.8 375.4,773.6 375.9,773.0 376.5,773.9 377.0,774.7 377.6,775.6 378.1,776.5 378.7,776.8 379.3,777.7 379.9,778.6 380.4,779.4 381.0,781.5 381.6,782.3 382.1,783.2 382.7,784.1 383.3,785.0 383.9,785.9 384.5,782.7 385.1,786.1 385.7,787.0 386.3,789.5 386.9,790.4 387.5,790.7 388.1,791.6 388.8,792.4 389.4,794.7 390.0,795.5 390.6,796.2 391.2,797.0 391.8,797.7 392.4,798.3 393.3,799.1 394.1,799.9 394.9,799.4 395.8,800.0 396.6,800.5 397.4,801.0 398.2,801.5 399.0,801.9 399.9,804.4 400.8,803.4 401.7,802.6 402.7,804.8 403.8,803.5 404.9,803.9 405.7,805.1 406.6,805.4 407.4,805.7 408.3,807.7 409.2,806.1 410.2,805.0 411.1,805.2 412.1,805.5 413.1,805.8 414.1,807.7 415.1,807.9 416.1,808.2 417.2,808.4 418.2,808.7 419.3,808.9 420.4,809.1 421.5,809.3 422.6,809.5 423.7,809.4 424.8,809.6 425.7,809.8 426.6,809.9 427.6,809.9 428.5,810.1 429.5,810.3 430.4,810.4 431.4,810.5 432.4,810.6 433.4,810.7 434.4,810.8 435.4,811.8 436.5,811.8 437.5,811.9 438.5,812.0 439.6,812.1 440.6,812.2 441.6,810.8 442.7,812.7 443.7,812.8 444.7,812.9 445.7,813.0 446.8,813.1 447.8,810.7 448.8,810.8 449.8,810.9 450.8,811.0 451.9,812.6 452.9,812.7 454.0,812.1 455.1,812.2 456.2,812.3 457.4,812.4 458.5,811.8 459.6,811.9 460.8,812.0 461.9,812.1 463.0,813.7 464.1,813.9 465.2,814.0 466.2,815.9 467.3,814.2 468.3,812.1 469.2,814.7 470.2,814.8 471.1,814.9 471.9,814.9 472.7,814.1 473.5,814.2 474.2,814.2 474.8,814.3 477.0,814.3 478.1,814.6 478.5,814.4 479.0,814.3 480.0,814.4 480.8,814.7 481.5,815.0 482.3,815.4 483.2,814.2 484.1,816.4 485.1,816.8 486.1,816.8 487.2,817.1 488.4,818.2 489.7,818.2 490.5,818.0 491.3,819.4 492.2,817.4 493.2,816.9 494.1,815.7 495.2,815.2 496.2,814.6 497.2,814.1 498.3,813.5 499.4,814.6 500.4,812.7 501.4,813.1 502.4,812.6 503.4,812.2 504.3,811.8 505.2,809.2 506.0,811.5 506.8,810.0 507.8,810.3 508.7,810.7 509.5,809.0 510.2,812.0 510.9,813.5 511.5,814.6 512.1,815.6 512.7,816.6 513.4,817.5 514.1,820.1 514.8,818.9 515.7,819.3 516.5,819.4 517.4,820.4 518.3,820.3 519.2,820.1 520.1,819.9 521.0,819.5 522.0,819.2 523.0,817.6 524.0,817.2 525.1,816.9 526.2,816.7 527.4,817.2 528.6,817.1 529.5,817.2 530.3,817.3 531.2,817.4 532.1,817.6 533.0,816.9 533.9,817.1 534.9,817.9 535.8,818.1 536.8,818.4 537.8,818.6 538.9,819.3 539.9,819.5 541.0,819.0 542.1,819.2 543.2,819.4 544.4,820.7 545.6,820.8 546.8,823.3 548.1,820.9 549.0,820.8 549.9,820.8 550.8,819.5 551.8,819.4 552.8,819.3 553.9,819.3 555.0,822.4 556.1,820.0 557.2,819.9 558.3,819.8 559.5,819.6 560.6,819.5 561.8,820.0 562.9,821.2 564.1,818.4 565.2,818.3 566.3,818.1 567.4,817.9 568.5,817.7 569.6,817.5 570.6,817.4 571.6,814.6 572.6,816.8 573.5,816.6 574.4,816.4 575.2,816.2 575.9,816.0 576.7,816.7 577.3,816.5 579.0,815.8 580.2,815.1 581.1,813.8 581.7,812.9 582.0,812.0 582.4,811.2 582.7,809.2 583.1,808.7 583.8,808.4 584.7,806.1 585.5,809.3 586.3,810.0 587.1,810.7 588.1,813.1 589.2,812.0 590.4,812.3 591.9,812.2 592.6,812.0 593.4,811.7 594.2,811.4 595.0,811.4 595.9,811.0 596.9,810.9 597.8,810.4 598.8,809.8 599.8,809.2 600.8,806.8 601.8,807.4 602.8,806.8 603.9,806.3 604.9,805.8 605.9,805.2 606.9,804.8 607.8,804.3 608.8,803.8 609.7,803.5 610.8,803.3 611.8,803.0 612.9,802.9 614.0,802.7 615.0,800.1 616.1,804.0 617.2,802.3 618.2,802.3 619.2,801.9 620.2,801.9 621.2,803.4 622.2,803.4 623.2,803.5 624.1,803.5 625.0,803.6 625.9,804.2 627.1,806.0 628.4,804.3 629.5,804.3 630.7,803.4 631.8,803.5 632.8,803.6 633.8,803.7 634.8,803.9 635.7,803.2 636.5,803.5 637.3,803.8 638.2,804.4 638.8,805.9 639.3,806.6 639.7,807.4 640.1,808.3 640.6,809.2 641.2,811.5 642.2,812.5 642.8,813.0 643.5,813.6 644.2,811.8 644.9,812.4 645.7,813.0 646.5,814.8 647.3,815.4 648.2,816.0 649.1,816.2 650.0,816.9 651.0,817.5 652.0,818.1 653.0,818.6 654.0,817.4 655.1,817.9 655.9,819.9 656.8,820.3 657.7,821.1 658.6,821.5 659.6,821.9 660.6,822.2 661.6,825.6 662.6,823.5 663.6,823.9 664.6,824.2 665.7,822.9 666.7,823.2 667.8,823.5 668.8,823.8 669.8,824.1 670.8,826.3 671.8,826.5 672.8,828.5 673.7,829.0 674.6,827.3 675.7,827.6 676.7,827.8 677.7,827.8 678.6,828.0 679.5,828.2 680.3,828.3 681.2,829.9 682.1,827.0 683.0,827.1 683.9,828.5 684.9,827.3 685.9,827.4 687.0,828.3 688.2,828.4 689.4,828.6 690.8,828.7 691.6,828.8 692.5,829.5 693.3,829.6 694.3,829.7 695.2,829.8 696.2,829.9 697.2,830.2 698.3,830.3 699.3,831.8 700.4,830.0 701.5,830.1 702.6,830.2 703.7,829.5 704.8,829.6 706.0,829.7 707.1,830.5 708.2,830.6 709.3,833.0 710.4,830.8 711.5,830.8 712.5,831.0 713.6,831.1 714.6,831.2 715.6,831.3 716.5,831.3 717.5,831.4 718.3,831.7 719.2,831.8 720.0,831.9 721.4,832.0 722.6,832.1 723.7,832.2 724.8,831.5 725.8,831.6 726.7,831.7 727.6,832.3 728.4,832.4 729.3,832.5 730.1,832.6 731.0,831.7 731.9,833.3 732.8,832.2 733.9,832.3 735.0,832.9 736.2,833.0 737.1,833.1 737.9,833.2 738.8,833.7 739.8,833.8 740.7,834.2 741.7,834.3 742.7,834.4 743.7,834.6 744.7,834.7 745.7,832.3 746.8,834.7 747.8,834.9 748.9,836.7 750.0,835.1 751.0,834.1 752.1,835.8 753.2,834.3 754.2,834.4 755.3,834.5 756.4,835.1 757.4,835.2 758.4,835.2 759.5,835.2 760.5,835.3 761.5,835.3 762.5,835.3 763.5,835.2 764.5,835.2 765.4,832.8 766.4,835.1 767.4,835.4 768.3,835.4 769.3,835.3 770.3,835.2 771.2,833.4 772.2,833.3 773.2,833.2 774.2,833.1 775.2,833.0 776.2,834.9 777.2,834.9 778.2,834.8 779.3,834.7 780.4,834.6 781.5,833.6 782.6,833.6 783.7,833.7 784.9,836.1 785.8,834.8 786.7,837.2 787.7,834.8 788.6,834.8 789.6,834.0 790.6,834.1 791.6,834.1 792.6,834.2 793.7,834.0 794.7,834.0 795.8,836.5 796.8,834.1 797.9,834.2 799.0,835.2 800.0,835.3 801.1,835.3 802.2,835.4 803.3,835.5 804.3,835.5 805.4,834.4 806.5,835.8 807.5,834.5 808.5,835.3 809.6,835.4 810.6,835.4 811.6,835.0 812.6,835.0 813.6,835.1 814.5,835.9 815.5,836.0 816.4,836.0 817.3,833.0 818.5,835.1 819.6,835.1 820.7,835.2 821.8,835.2 822.9,835.3 823.9,834.7 825.0,834.8 826.0,836.1 827.0,836.6 828.0,836.7 829.0,835.9 830.0,835.9 830.9,836.0 831.9,836.0 832.8,836.0 833.8,836.1 834.8,836.5 835.7,836.6 836.7,836.6 837.6,836.6 838.6,835.5 839.6,835.5 840.6,835.5 841.6,835.5 842.6,833.9 843.6,836.4 844.6,836.4 845.7,835.9 846.7,835.9 847.7,835.8 848.7,835.8 849.8,835.8 850.8,835.8 851.8,837.3 852.8,837.3 853.8,837.2 854.9,837.2 855.9,837.2 856.9,836.3 857.9,836.2 858.9,836.2 859.9,835.6 860.9,835.5 861.9,835.4 862.9,835.3 863.9,835.2 864.9,835.2 865.9,835.1 867.0,835.0 868.1,834.9 869.2,834.4 870.3,834.3 871.4,834.2 872.6,834.1 873.7,834.0 874.8,833.2 875.9,834.3 877.1,834.2 878.2,834.1 879.2,834.1 880.3,833.9 881.4,833.8 882.4,833.6 883.4,833.7 884.3,833.5 885.3,834.1 886.2,833.9 887.0,831.8 887.8,833.5 888.6,835.0 889.8,831.3 890.9,830.8 891.8,830.6 892.6,830.0 893.3,829.2 893.9,828.5 894.5,827.8 895.1,827.1 895.8,826.6 896.5,828.5 897.4,825.1 898.4,824.7 899.2,824.5 900.1,824.3 901.0,824.2 902.0,825.5 903.0,824.2 904.0,824.9 905.0,824.9 906.1,824.4 907.2,824.5 908.2,824.5 909.3,824.0 910.4,824.0 911.5,824.5 912.5,824.5 913.6,824.7 914.6,824.7 915.6,824.6 916.6,824.8 917.6,822.9 918.6,824.7 919.7,824.2 920.7,824.2 921.7,822.2 922.7,824.1 923.7,824.0 924.7,823.1 925.7,823.0 926.8,822.9 927.8,822.8 928.8,822.6 929.8,822.4 930.8,822.2 931.8,822.0 932.7,821.7 933.7,821.4 934.7,819.4 935.7,820.6 936.6,820.6 937.6,820.2 938.6,821.4 939.6,818.9 940.6,818.5 941.5,815.8 942.5,818.3 943.4,817.9 944.3,817.6 945.2,817.1 946.1,816.8 947.0,816.7 948.1,816.2 949.2,816.1 950.4,816.0 951.5,816.0 952.6,816.1 953.6,816.4 954.7,816.5 955.7,816.6 956.6,816.7 957.5,816.8 958.4,817.1 959.2,817.1 960.0,818.7 961.4,816.9 962.5,817.2 963.4,815.0 964.2,816.5 965.1,816.2 966.0,815.0 967.0,814.6 968.1,814.0 969.1,813.5 970.2,813.5 971.2,813.2 972.2,813.3 972.9,813.6 973.6,814.1 974.3,814.8 975.0,815.5 975.7,816.4 976.4,817.3 977.1,818.2 977.8,819.1 978.4,819.8 978.9,821.0 979.4,821.9 979.9,822.8 980.4,823.7 981.0,825.6 981.6,826.5 982.4,827.3 983.3,826.7 984.3,827.3 985.0,827.5 985.8,829.2 986.6,825.8 987.5,828.4 988.4,828.5 989.3,828.7 990.3,828.8 991.3,828.6 992.3,828.7 993.4,828.8 994.5,828.8 995.6,828.8 996.8,828.3 998.0,828.3 999.2,828.3 1000.5,828.1 1001.4,826.6 1002.2,828.0 1003.1,827.9 1004.0,827.8 1004.9,828.3 1005.8,828.2 1006.8,828.1 1007.7,827.9 1008.7,828.6 1009.7,828.4 1010.7,828.3 1011.7,828.1 1012.7,830.3 1013.8,828.5 1014.8,828.3 1015.9,826.6 1017.0,826.5 1018.0,826.3 1019.2,826.1 1020.3,825.4 1021.4,825.2 1022.6,825.6 1023.7,825.4 1024.9,825.3 1025.8,825.3 1026.7,826.4 1027.7,826.3 1028.6,822.6 1029.6,825.1 1030.6,825.0 1031.6,826.1 1032.6,826.1 1033.7,825.1 1034.7,825.0 1035.8,824.9 1036.8,827.2 1037.9,825.0 1039.0,825.0 1040.0,824.9 1041.1,825.4 1042.2,823.7 1043.3,823.6 1044.3,823.6 1045.4,823.5 1046.5,823.5 1047.5,822.5 1048.5,824.2 1049.6,824.2 1050.6,823.6 1051.6,823.5 1052.6,825.2 1053.6,823.8 1054.5,823.8 1055.5,823.8 1056.4,824.0 1057.3,824.0 1058.5,824.0 1059.6,824.1 1060.7,827.2 1061.8,824.9 1062.9,824.6 1063.9,824.7 1065.0,824.4 1066.0,824.5 1067.0,824.7 1068.0,824.8 1069.0,827.2 1070.0,825.1 1070.9,825.9 1071.9,826.1 1072.8,826.2 1073.8,825.0 1074.8,827.5 1075.7,827.7 1076.7,827.9 1077.6,827.0 1078.6,827.1 1079.6,829.1 1080.6,826.5 1081.6,826.6 1082.6,827.0 1083.6,827.2 1084.6,827.6 1085.6,827.7 1086.7,827.9 1087.7,828.0 1088.7,828.1 1089.7,827.3 1090.7,829.2 1091.7,828.5 1092.7,828.6 1093.7,828.8 1094.8,828.9 1095.8,829.0 1096.8,829.2 1097.8,829.9 1098.8,831.3 1099.8,830.2 1100.8,830.3 1101.8,830.5 1102.9,829.8 1103.9,829.9 1104.9,830.1 1105.9,830.3 1106.9,829.9 1107.9,830.0 1108.9,830.2 1110.0,830.4 1111.0,832.2 1112.0,832.4 1113.0,832.6 1114.0,832.8 1115.0,831.7 1116.1,831.9 1117.1,832.1 1118.1,832.3 1119.1,832.5 1120.1,834.5 1121.2,833.5 1122.2,833.7 1123.2,833.9 1124.2,834.3 1125.2,834.6 1126.2,834.8 1127.3,835.0 1128.3,835.2 1129.3,837.3 1130.3,836.4 1131.3,836.6 1132.2,836.8 1133.2,837.1 1134.2,837.4 1135.2,837.6 1136.1,837.1 1137.1,838.8 1138.1,837.7 1139.1,838.0 1140.0,838.3 1141.0,838.7 1142.0,839.0 1142.9,839.3 1143.9,839.6 1144.9,839.1 1145.9,839.4 1146.8,839.7 1147.8,839.9 1148.8,840.2 1149.7,840.3 1150.7,840.6 1151.7,841.6 1152.7,841.8 1153.6,842.0 1154.6,842.2 1155.6,842.1 1156.6,842.2 1157.7,842.4 1158.7,842.5 1159.7,842.6 1160.7,842.8 1161.8,842.0 1162.8,842.1 1163.9,841.6 1164.9,842.1 1165.9,843.4 1167.0,843.5 1168.0,844.4 1169.0,846.5 1170.0,844.6 1171.0,844.1 1172.0,844.1 1173.1,844.2 1174.0,843.4 1175.0,843.5 1176.0,843.6 1177.0,841.7 1177.9,843.8 1178.9,843.9 1180.0,843.5 1181.0,843.6 1182.1,843.8 1183.1,843.9 1184.1,844.1 1185.2,844.2 1186.2,846.1 1187.2,846.2 1188.2,846.4 1189.2,846.5 1190.1,843.7 1191.1,846.3 1192.1,846.4 1193.1,846.6 1194.1,846.7 1195.0,846.9 1196.0,847.7 1197.0,847.8 1198.0,848.4 1199.0,848.6 1200.0,848.7 1201.0,848.8 1202.0,848.9 1202.9,847.8 1203.9,847.9 1204.8,848.1 1205.7,848.2 1206.6,848.3 1207.5,848.4 1208.4,848.5 1209.4,848.3 1210.3,847.0 1211.3,848.5 1212.2,849.3 1213.2,849.5 1214.2,849.6 1215.3,850.8 1216.4,850.9 1217.5,851.1 1218.6,851.2 1219.9,850.8 1221.1,852.3 1221.9,851.1 1222.8,851.2 1223.7,851.4 1224.6,851.5 1225.5,851.4 1226.5,852.8 1227.4,851.4 1228.4,850.1 1229.4,852.7 1230.4,852.9 1231.4,851.5 1232.4,851.4 1233.5,851.6 1234.5,852.8 1235.5,853.0 1236.6,852.7 1237.7,852.8 1238.7,853.0 1239.8,853.2 1240.9,853.4 1241.9,855.1 1243.0,853.6 1244.1,853.8 1245.1,854.6 1246.2,854.7 1247.3,854.9 1248.3,855.0 1249.4,855.1 1250.4,854.5 1251.5,854.6 1252.5,854.7 1253.5,854.8 1254.5,855.1 1255.5,855.2 1256.5,855.3 1257.5,856.1 1258.6,856.2 1259.6,856.3 1260.6,857.9 1261.6,856.5 1262.6,856.5 1263.6,855.1 1264.6,855.2 1265.6,855.2 1266.7,855.3 1267.7,856.2 1268.7,856.2 1269.7,856.3 1270.7,856.3 1271.7,856.3 1272.7,856.3 1273.7,856.1 1274.8,856.2 1275.8,856.2 1276.8,856.2 1277.8,856.3 1278.8,857.2 1279.8,857.2 1280.8,857.2 1281.8,856.2 1282.9,856.2 1283.9,856.2 1284.9,856.3 1285.9,854.4 1286.9,856.3 1287.9,856.0 1288.9,856.0 1290.0,856.0 1291.0,857.8 1292.0,856.3 1293.0,856.3 1294.0,856.3 1295.0,855.3 1296.0,857.8 1297.0,857.8 1298.0,857.8 1299.0,855.9 1300.1,855.9 1301.1,855.9 1302.1,855.9 1303.1,855.9 1304.1,855.9 1305.1,857.5 1306.1,857.5 1307.1,857.5 1308.2,857.5 1309.2,856.1 1310.2,856.1 1311.2,856.8 1312.2,856.8 1313.3,856.8 1314.3,856.8 1315.3,856.8 1316.3,856.8 1317.4,856.8 1318.4,856.8 1319.4,856.8 1320.5,856.8 1321.5,856.8 1322.6,856.8 1323.8,856.0 1324.9,856.0 1326.1,856.0 1327.2,856.3 1328.4,856.3 1329.6,853.2 1330.8,855.0 1332.0,855.0 1333.1,855.0 1334.3,856.8 1335.5,856.8 1336.7,856.8 1337.8,856.8 1338.9,857.2 1340.1,857.2 1341.1,857.2 1342.2,857.3 1343.2,857.3 1344.3,857.3 1345.2,855.5 1346.2,855.5 1347.1,856.0 1347.9,856.0 1348.7,856.0 1349.5,856.0 1350.2,856.8 1350.9,856.8 1351.5,856.8 1352.0,856.8"/>
<polyline points="141.0,934.5 141.1,933.9 141.2,930.8 141.4,932.4 141.5,931.6 141.7,930.7 141.9,929.8 142.1,928.8 142.3,928.2 142.5,927.1 142.8,925.9 143.0,924.8 143.2,923.1 143.4,921.9 143.7,920.7 143.9,919.5 144.1,918.2 144.3,917.6 144.5,916.5 144.7,915.5 144.8,914.6 145.0,913.7 145.1,912.4 145.3,911.4 145.4,910.4 145.6,909.1 145.7,908.1 145.9,907.3 146.0,908.0 146.2,904.8 146.3,903.8 146.5,902.8 146.6,903.4 146.8,900.7 146.9,899.6 147.1,899.2 147.2,898.2 147.4,897.1 147.5,896.1 147.7,895.1 147.8,893.3 148.0,894.8 148.1,891.3 148.3,890.3 148.4,886.8 148.6,889.1 148.7,888.1 148.9,887.2 149.0,886.3 149.2,886.9 149.3,884.6 149.5,883.7 149.6,882.7 149.8,881.8 149.9,882.6 150.1,881.9 150.2,877.8 150.4,876.8 150.5,877.8 150.7,874.7 150.8,875.2 151.0,873.9 151.1,872.8 151.3,871.6 151.4,870.3 151.5,869.5 151.6,868.6 151.7,866.5 151.8,865.6 151.9,864.3 152.0,863.3 152.1,862.4 152.2,861.4 152.3,860.3 152.4,859.3 152.5,859.0 152.6,857.9 152.7,856.9 152.8,855.8 153.0,854.7 153.1,853.7 153.2,853.4 153.3,852.4 153.4,851.3 153.5,849.2 153.6,848.1 153.7,847.0 153.8,845.7 153.9,844.6 154.0,843.6 154.1,842.5 154.2,841.5 154.3,840.5 154.4,840.2 154.5,839.2 154.5,838.3 154.6,837.3 154.7,836.7 154.8,835.8 154.9,834.9 155.0,833.7 155.1,832.0 155.3,830.8 155.4,829.6 155.5,828.4 155.6,827.3 155.7,826.1 155.8,824.8 155.9,823.7 156.0,822.6 156.1,821.0 156.2,819.9 156.3,818.9 156.4,818.0 156.5,817.1 156.6,816.2 156.7,815.3 156.8,814.4 156.9,816.1 157.0,813.1 157.1,812.4 157.2,811.6 157.3,810.5 157.5,808.8 157.8,808.6 158.0,807.4 158.2,806.4 158.4,805.5 158.6,804.7 158.8,804.0 159.1,802.2 159.5,801.6 160.3,800.6 161.2,800.0 162.2,799.6 163.2,799.1 164.2,799.3 165.0,797.1 165.8,797.7 166.5,796.9 167.3,796.0 168.2,795.2 169.0,793.7 169.9,792.9 170.7,792.1 171.6,791.3 172.5,790.7 173.5,792.2 174.5,792.3 175.1,792.7 175.8,792.6 176.5,793.3 177.2,794.2 177.9,795.3 178.6,796.2 179.4,796.0 180.1,796.9 180.9,797.8 181.6,798.6 182.4,799.3 183.2,799.9 184.0,801.4 184.9,802.0 185.7,802.6 186.5,803.2 187.3,803.8 188.1,803.9 188.8,804.6 189.5,805.3 190.2,806.0 190.7,808.4 191.2,807.7 191.7,808.7 192.1,809.6 192.6,810.5 193.1,811.7 193.6,812.6 194.3,813.4 195.0,814.1 195.6,815.7 196.3,816.4 197.1,817.0 197.9,817.6 198.7,818.2 199.5,818.8 200.4,818.0 201.3,818.6 202.2,819.3 203.0,819.9 203.9,820.4 204.8,820.9 205.7,821.5 206.6,821.6 207.6,822.1 208.6,822.7 209.5,823.2 210.5,823.7 211.4,825.3 212.3,824.0 213.2,826.4 214.1,826.5 215.1,827.1 216.0,827.7 216.9,828.3 217.8,828.9 218.7,829.5 219.5,832.6 220.4,829.0 221.2,831.5 222.0,832.0 222.7,832.5 223.7,833.1 224.5,833.7 225.1,834.0 225.8,834.5 226.6,834.9 227.6,835.2 229.0,835.4 229.8,833.2 230.7,835.0 231.6,835.0 232.7,834.9 233.8,834.9 234.9,835.5 236.1,835.4 237.2,835.0 238.4,834.9 239.6,834.8 240.7,834.7 241.8,834.7 242.9,834.6 243.9,834.6 244.8,834.6 246.0,836.7 247.2,834.6 248.2,835.9 249.2,836.0 250.1,834.1 251.1,834.2 252.0,834.4 252.9,835.7 253.9,835.8 255.0,836.0 255.9,836.2 256.9,835.7 257.9,836.0 258.9,836.3 260.0,836.6 261.0,837.2 262.1,837.5 263.1,838.4 264.1,838.6 265.1,838.6 266.1,838.6 267.0,838.4 267.9,838.1 268.8,836.8 269.6,836.3 270.5,835.7 271.3,837.2 272.1,834.3 272.9,833.3 273.7,832.6 274.6,833.3 275.4,831.0 276.2,830.2 277.0,829.4 277.7,826.5 278.4,828.1 279.2,829.2 279.9,828.5 280.6,827.8 281.3,827.1 282.1,826.3 282.8,823.5 283.5,822.7 284.2,821.5 284.9,820.8 285.6,821.9 286.3,821.2 286.9,820.5 287.6,819.6 288.4,818.8 289.1,816.3 289.9,815.6 290.6,814.7 291.3,813.9 291.9,813.0 292.6,814.3 293.2,813.0 293.8,812.2 294.4,811.4 294.9,811.2 295.6,810.1 296.1,807.8 296.6,806.9 297.0,806.1 297.4,805.2 297.9,804.5 298.3,803.3 298.9,802.0 299.2,800.9 299.5,800.2 299.8,799.4 300.2,798.6 300.5,797.8 300.9,799.0 301.2,794.3 301.6,795.5 302.0,792.5 302.3,793.6 302.7,792.6 303.1,791.5 303.4,790.0 303.8,788.9 304.2,787.8 304.5,786.6 304.9,785.5 305.1,782.7 305.4,783.8 305.6,782.9 305.8,782.0 306.1,781.1 306.3,778.6 306.6,777.7 306.8,776.7 307.1,775.6 307.3,774.6 307.5,771.2 307.8,774.2 308.0,773.1 308.3,772.0 308.5,771.0 308.7,769.9 309.0,768.9 309.2,768.2 309.4,764.9 309.7,764.6 309.9,763.6 310.1,762.5 310.3,761.5 310.5,760.5 310.7,759.6 310.9,760.8 311.1,759.7 311.3,758.6 311.5,757.5 311.7,756.4 311.9,754.9 312.1,753.8 312.3,752.7 312.5,751.6 312.7,749.1 312.8,748.0 313.0,746.9 313.2,745.9 313.3,744.8 313.5,744.3 313.7,743.3 313.8,742.4 314.0,741.4 314.1,741.4 314.3,740.6 314.4,739.7 314.6,739.0 314.7,738.0 314.9,737.3 315.3,735.6 315.7,736.8 316.1,733.2 316.5,731.9 316.8,731.1 317.2,730.5 317.6,730.0 318.0,729.4 318.9,728.1 319.9,727.2 321.0,726.7 321.9,726.9 322.3,728.4 322.7,730.4 323.1,729.9 323.4,730.9 323.8,732.1 324.2,733.4 324.6,733.6 325.0,735.0 325.2,735.6 325.5,736.4 325.7,737.2 325.9,735.6 326.2,738.8 326.4,739.6 326.7,740.5 326.9,741.4 327.2,742.4 327.4,746.8 327.7,745.4 328.0,746.5 328.3,748.0 328.6,749.4 328.9,750.8 329.1,751.6 329.2,752.4 329.4,751.3 329.6,752.2 329.8,753.1 330.0,754.1 330.1,756.2 330.3,757.2 330.5,758.0 330.7,761.5 330.9,759.9 331.1,761.0 331.3,762.0 331.5,763.1 331.7,764.2 331.9,765.3 332.1,766.4 332.3,767.5 332.5,769.2 332.8,770.3 333.0,771.3 333.2,771.4 333.4,772.5 333.6,773.5 333.8,774.5 334.0,775.4 334.2,776.4 334.4,777.3 334.6,778.2 334.8,780.1 335.1,781.3 335.3,782.4 335.6,783.6 335.9,784.7 336.2,785.3 336.5,788.1 336.8,787.4 337.1,788.5 337.3,790.2 337.6,791.3 337.9,790.9 338.2,791.8 338.5,793.4 338.8,794.3 339.0,795.6 339.3,796.6 339.6,797.5 339.8,798.4 340.1,799.2 340.3,800.2 340.6,801.1 340.8,801.9 341.1,800.9 341.5,804.4 341.8,805.8 342.1,807.0 342.3,808.1 342.6,809.0 342.9,810.1 343.1,811.1 343.4,812.1 343.6,813.0 343.9,813.4 344.2,814.1 344.5,817.2 344.8,815.4 345.7,816.3 346.6,816.8 347.6,816.7 348.7,816.3 349.9,816.0 350.8,815.8 351.7,815.3 352.7,815.1 353.7,814.8 354.7,814.4 355.8,814.2 356.9,814.2 358.0,814.0 359.0,813.8 360.0,814.1 361.1,813.9 362.2,813.7 363.3,813.6 364.4,814.4 365.4,814.5 366.4,813.3 367.4,813.6 368.3,813.9 369.1,814.3 369.9,814.7 370.7,815.5 371.5,814.8 372.3,815.5 373.1,816.4 374.0,815.9 374.9,819.4 375.3,819.6 375.8,820.3 376.3,821.1 376.7,821.9 377.2,822.7 377.7,823.6 378.2,825.6 378.7,826.6 379.2,826.8 379.7,827.7 380.3,829.0 380.8,830.0 381.3,831.0 381.8,831.6 382.3,832.6 382.9,833.5 383.4,833.1 383.9,835.2 384.4,836.0 384.9,836.7 385.6,837.7 386.2,838.6 386.8,840.1 387.4,840.9 388.0,841.7 388.7,842.5 389.3,843.2 389.9,844.0 390.5,844.9 391.2,845.6 391.9,845.1 392.6,845.8 393.3,846.4 394.1,844.5 394.9,849.0 395.7,848.2 396.5,849.2 397.4,849.8 398.3,848.9 399.2,850.8 400.2,851.6 401.1,852.1 402.1,851.9 403.1,852.3 404.1,852.8 405.1,853.2 406.0,854.1 407.0,852.0 408.0,854.9 409.0,855.3 409.9,855.6 410.9,856.0 411.8,856.3 412.7,856.6 413.6,856.9 414.5,857.2 415.4,857.5 416.3,858.2 417.2,858.4 418.1,858.2 419.1,858.5 420.1,858.7 421.2,859.2 422.3,859.4 423.5,859.8 424.8,860.0 425.6,860.1 426.5,860.2 427.3,860.2 428.2,860.3 429.2,859.7 430.1,859.7 431.1,861.6 432.1,860.6 433.1,860.6 434.1,860.5 435.1,862.3 436.1,860.5 437.2,860.7 438.3,860.8 439.3,859.4 440.4,860.8 441.4,860.9 442.5,862.6 443.6,860.1 444.6,860.2 445.7,860.9 446.7,861.0 447.8,861.0 448.8,860.4 449.8,860.4 450.8,859.8 451.9,859.8 452.9,860.9 454.0,860.9 455.1,861.9 456.2,861.9 457.4,862.0 458.5,861.3 459.6,861.3 460.8,861.4 461.9,861.5 463.0,861.6 464.1,862.0 465.2,862.1 466.2,862.6 467.3,862.7 468.3,865.1 469.2,862.8 470.2,862.8 471.1,862.9 471.9,862.1 472.7,862.2 473.5,862.2 474.2,862.2 474.8,862.1 477.1,861.8 478.2,862.0 478.8,861.3 479.2,860.7 480.0,860.7 480.7,861.0 481.4,861.6 482.2,862.3 482.9,863.2 483.7,864.0 484.6,864.7 485.5,864.7 486.5,865.0 487.3,865.0 488.2,864.8 489.1,864.1 490.0,863.8 491.0,863.4 492.0,862.9 493.0,862.5 494.0,862.0 495.0,861.3 496.0,860.9 497.0,860.6 498.0,860.2 499.0,859.7 500.0,859.3 501.0,857.9 502.0,857.4 502.9,857.0 503.9,856.6 504.9,856.3 505.8,856.1 506.7,856.6 507.6,856.7 508.4,857.0 509.0,857.5 509.5,859.7 510.0,860.6 510.5,861.5 511.1,862.4 511.8,863.3 512.8,864.2 514.0,864.4 515.7,865.0 516.4,865.0 517.1,865.1 517.9,865.3 518.8,865.4 519.6,864.9 520.6,865.0 521.6,865.1 522.6,864.0 523.6,867.5 524.7,866.6 525.8,868.4 526.9,868.1 528.1,866.8 529.2,866.8 530.4,864.7 531.5,864.7 532.7,864.8 533.8,863.4 535.0,867.1 536.1,867.1 537.2,867.1 538.3,867.2 539.3,865.2 540.4,865.2 541.4,866.4 542.3,865.2 543.2,866.8 544.1,866.8 544.9,866.5 546.3,864.1 547.5,866.6 548.7,866.7 549.9,865.6 550.9,865.6 551.9,865.6 552.9,865.6 553.8,865.6 554.7,865.6 555.6,865.8 556.5,865.8 557.4,866.8 558.2,866.8 559.2,866.8 560.1,866.9 561.1,864.9 562.1,866.8 563.1,868.8 564.1,866.6 565.1,866.6 566.2,866.6 567.2,865.2 568.2,866.6 569.2,866.6 570.2,866.5 571.2,866.9 572.2,865.5 573.2,865.4 574.3,865.2 575.3,864.1 576.3,863.8 577.3,864.8 578.2,864.5 579.1,863.9 580.0,863.5 580.8,864.9 581.7,862.6 582.6,862.4 583.4,861.9 584.3,860.1 585.2,859.6 586.1,859.1 587.0,859.8 587.9,859.3 588.8,861.3 589.7,858.3 590.6,856.9 591.6,856.4 592.5,856.1 593.5,855.7 594.5,857.6 595.5,855.8 596.5,857.1 597.6,856.9 598.6,854.5 599.7,856.6 600.9,855.2 602.0,855.1 603.1,855.0 604.2,854.9 605.3,854.8 606.4,854.1 607.5,854.0 608.5,854.4 609.5,854.2 610.4,854.1 611.3,853.3 612.2,853.1 613.0,852.9 614.2,851.7 615.4,851.2 616.4,848.9 617.2,849.9 618.1,849.2 618.8,848.5 619.6,849.0 620.3,848.3 621.1,847.7 621.9,848.8 622.7,846.9 623.8,846.4 624.9,846.8 625.9,846.5 627.0,846.2 628.1,846.0 629.2,845.0 630.2,845.0 631.3,845.1 632.4,846.6 633.3,845.5 634.1,845.9 634.9,845.8 635.7,846.3 636.5,846.8 637.3,847.8 638.2,848.5 639.1,849.2 640.0,849.9 641.1,850.7 642.2,851.2 642.9,851.7 643.6,852.3 644.4,852.2 645.2,852.8 646.0,853.4 646.8,854.0 647.7,854.7 648.6,855.4 649.5,856.1 650.3,856.8 651.3,858.4 652.2,859.1 653.1,858.2 654.0,858.9 654.9,857.9 655.8,860.0 656.7,860.6 657.5,861.7 658.4,863.4 659.4,863.9 660.4,864.4 661.4,864.8 662.4,865.5 663.5,865.8 664.5,866.1 665.5,866.4 666.5,866.7 667.5,866.9 668.5,866.9 669.5,867.2 670.5,870.0 671.6,867.6 672.6,867.9 673.6,866.6 674.6,866.9 675.6,867.2 676.6,867.7 677.6,868.0 678.6,870.0 679.6,868.5 680.6,868.8 681.6,869.0 682.6,870.2 683.6,870.4 684.6,872.6 685.6,871.2 686.6,871.5 687.7,871.7 688.7,871.9 689.7,872.2 690.8,872.4 691.8,873.0 692.7,873.1 693.7,872.4 694.8,870.9 695.8,872.8 696.9,873.0 697.9,873.5 699.0,873.7 700.0,873.8 701.0,874.0 702.1,874.2 703.1,874.2 704.1,871.8 705.0,876.1 706.0,876.2 706.9,876.3 707.8,876.4 708.6,876.5 709.8,878.3 710.9,874.2 711.8,874.2 712.7,874.2 713.5,876.6 714.3,874.1 715.2,874.0 716.1,875.2 717.2,875.1 718.5,873.8 720.0,873.8 720.8,873.9 721.6,874.6 722.4,874.6 723.3,874.1 724.2,874.1 725.2,874.1 726.1,871.9 727.1,873.7 728.2,873.7 729.2,873.7 730.3,875.3 731.3,875.4 732.4,875.4 733.5,875.4 734.6,875.5 735.7,873.8 736.8,875.9 737.9,875.9 739.0,874.9 740.1,875.0 741.2,874.9 742.2,874.9 743.3,875.0 744.3,875.0 745.3,875.1 746.3,875.1 747.3,876.0 748.3,876.0 749.4,876.1 750.4,876.2 751.4,876.2 752.4,876.3 753.4,876.4 754.4,876.5 755.4,876.9 756.4,877.0 757.5,877.0 758.5,877.1 759.5,877.2 760.5,877.2 761.5,877.8 762.5,877.9 763.5,878.0 764.5,877.0 765.6,877.0 766.6,877.1 767.6,876.6 768.6,876.7 769.6,877.7 770.6,877.7 771.6,876.9 772.7,877.0 773.7,877.1 774.7,876.5 775.7,876.6 776.7,877.5 777.7,877.6 778.8,877.6 779.8,877.7 780.8,875.5 781.8,877.9 782.8,881.4 783.9,878.9 784.9,879.0 785.9,878.5 786.9,878.6 787.9,878.6 788.9,878.9 790.0,878.9 791.0,878.9 792.0,879.0 793.0,879.0 794.0,879.0 795.0,878.9 796.0,878.9 797.0,878.8 797.9,878.8 798.9,878.8 799.9,877.6 800.8,877.5 801.8,877.5 802.7,877.3 803.7,877.3 804.6,877.2 805.6,877.1 806.6,879.9 807.6,877.9 808.6,878.5 809.6,878.4 810.7,875.6 811.7,876.9 812.8,876.9 813.9,878.6 815.0,876.7 816.1,878.6 817.3,878.5 818.2,878.5 819.1,878.5 820.1,877.2 821.1,877.2 822.1,877.2 823.2,877.2 824.2,877.2 825.3,877.2 826.4,877.4 827.5,877.4 828.6,877.5 829.7,877.5 830.8,877.5 832.0,876.6 833.1,876.6 834.2,876.7 835.3,876.7 836.4,878.0 837.5,878.0 838.6,878.1 839.7,878.1 840.7,878.1 841.8,878.1 842.8,878.1 843.8,877.6 844.7,877.6 845.6,877.6 846.5,877.6 847.4,877.6 848.2,877.3 849.0,877.3 849.7,877.0 851.3,877.0 852.7,876.9 853.9,876.8 854.9,878.7 855.8,878.5 856.6,878.4 857.4,878.3 858.1,878.2 858.9,878.1 859.7,878.0 860.5,876.6 861.5,876.5 862.7,876.4 863.6,873.8 864.6,876.3 865.6,876.1 866.6,877.8 867.7,876.0 868.9,875.9 870.0,875.9 871.2,875.8 872.4,876.1 873.5,876.0 874.7,875.8 875.8,875.8 876.9,875.7 878.0,875.6 878.9,875.6 879.9,873.8 880.7,875.5 881.5,875.4 882.2,874.5 884.0,874.0 885.0,873.5 885.5,872.9 886.1,872.2 887.0,872.0 887.8,872.9 888.7,871.2 889.7,870.8 890.6,870.4 891.7,870.0 892.8,869.6 893.9,868.7 895.1,866.3 895.9,867.9 896.7,867.9 897.4,867.5 898.2,867.1 899.0,864.9 899.8,866.2 900.7,868.0 901.6,865.5 902.7,865.1 903.8,863.1 905.1,865.1 906.5,864.8 907.3,864.7 908.1,865.3 908.9,865.2 909.7,865.1 910.6,865.0 911.6,864.9 912.5,864.3 913.5,864.2 914.5,862.9 915.5,862.9 916.5,863.2 917.5,863.1 918.6,863.1 919.7,863.0 920.8,862.6 921.9,862.5 923.0,862.5 924.1,862.4 925.2,862.4 926.3,862.8 927.4,862.8 928.6,862.7 929.7,862.6 930.8,862.6 931.7,863.0 932.7,863.0 933.7,862.9 934.8,862.8 935.8,862.8 936.9,862.7 938.0,863.3 939.1,863.2 940.3,863.1 941.4,863.1 942.6,861.8 943.7,861.7 944.8,861.6 946.0,861.5 947.1,862.1 948.2,862.0 949.3,862.0 950.4,861.9 951.5,861.8 952.5,861.7 953.5,860.4 954.5,858.0 955.4,860.3 956.3,860.2 957.1,860.1 957.9,858.1 958.7,861.5 959.4,861.4 960.0,861.3 962.1,860.8 963.4,860.4 964.2,860.0 964.7,859.1 965.0,858.6 965.4,857.9 966.0,857.1 966.6,856.4 967.2,855.5 967.7,855.6 968.3,854.5 968.9,853.4 969.4,851.8 970.0,850.9 970.5,850.1 971.0,851.2 971.4,849.3 971.9,848.7 972.3,849.2 972.7,847.6 973.0,851.3 973.4,852.5 973.9,854.3 974.6,855.5 975.1,856.2 975.6,856.8 976.1,857.7 976.6,858.6 977.1,859.5 977.7,860.5 978.4,861.4 979.1,860.8 979.9,861.6 980.7,865.0 981.7,865.6 982.7,866.2 983.5,866.5 984.3,865.5 985.2,865.7 986.1,865.9 987.0,866.1 988.0,865.6 989.0,867.1 990.0,865.8 991.1,866.7 992.2,868.5 993.3,866.8 994.5,866.8 995.7,865.2 996.8,865.9 998.0,865.9 999.3,865.9 1000.5,865.9 1001.4,865.8 1002.3,869.7 1003.2,867.2 1004.2,867.1 1005.2,867.1 1006.1,867.0 1007.1,866.9 1008.1,866.1 1009.2,866.0 1010.2,863.4 1011.2,865.8 1012.3,865.7 1013.3,865.6 1014.4,865.8 1015.5,865.7 1016.5,865.6 1017.6,863.6 1018.7,863.5 1019.7,865.4 1020.8,865.3 1021.8,865.2 1022.8,865.0 1023.9,864.4 1024.9,864.3 1025.9,864.2 1027.0,864.0 1028.0,864.3 1029.1,864.1 1030.2,864.0 1031.3,863.8 1032.4,863.6 1033.5,861.5 1034.6,861.3 1035.7,861.1 1036.8,861.0 1037.9,860.8 1038.9,862.1 1040.0,861.9 1041.0,861.7 1042.1,862.3 1043.1,862.1 1044.0,861.9 1045.0,864.3 1045.9,861.6 1046.8,860.6 1047.6,860.4 1048.4,860.3 1049.2,857.3 1050.7,859.4 1052.0,859.0 1053.2,856.9 1054.2,858.0 1055.1,857.7 1056.0,857.3 1056.8,857.0 1057.6,857.6 1058.5,855.4 1059.5,857.2 1060.5,857.1 1061.4,857.0 1062.4,856.3 1063.3,856.3 1064.3,856.4 1065.2,856.5 1066.2,856.6 1067.2,856.9 1068.2,857.1 1069.2,857.7 1070.2,857.9 1071.3,859.3 1072.4,858.3 1073.5,858.1 1074.4,858.3 1075.3,858.4 1076.2,858.6 1077.1,858.8 1078.1,859.6 1079.0,859.8 1079.9,861.7 1080.9,859.5 1081.9,858.5 1082.9,860.0 1083.9,860.2 1085.0,860.4 1086.1,860.3 1087.3,860.5 1088.5,860.8 1089.7,861.0 1090.6,862.2 1091.4,862.4 1092.3,862.6 1093.3,862.8 1094.2,863.0 1095.2,861.8 1096.2,862.0 1097.2,862.3 1098.2,862.6 1099.2,862.8 1100.3,863.1 1101.3,863.3 1102.4,863.5 1103.5,864.6 1104.5,864.8 1105.6,865.0 1106.7,862.8 1107.7,866.8 1108.8,863.3 1109.9,865.6 1110.9,865.8 1111.9,865.6 1113.0,865.8 1114.0,866.0 1115.0,866.1 1116.0,867.9 1117.0,868.0 1118.1,868.2 1119.1,868.3 1120.1,868.0 1121.1,868.2 1122.1,865.9 1123.1,866.1 1124.2,866.2 1125.2,866.3 1126.2,866.4 1127.2,867.4 1128.2,867.6 1129.3,867.7 1130.3,868.2 1131.3,868.3 1132.3,868.4 1133.3,868.6 1134.3,868.7 1135.4,867.6 1136.4,869.8 1137.4,870.0 1138.4,870.1 1139.4,870.3 1140.4,870.5 1141.4,869.2 1142.5,869.9 1143.5,870.1 1144.5,870.3 1145.5,870.5 1146.5,870.7 1147.5,870.9 1148.5,871.9 1149.5,872.2 1150.6,872.4 1151.6,872.6 1152.6,872.8 1153.6,873.1 1154.6,873.3 1155.6,875.2 1156.6,871.7 1157.6,873.9 1158.7,875.9 1159.7,874.2 1160.7,872.2 1161.7,874.6 1162.7,873.1 1163.7,873.3 1164.7,874.8 1165.8,875.0 1166.8,875.2 1167.9,875.7 1168.9,875.9 1170.0,876.1 1171.0,876.3 1172.1,876.5 1173.1,876.4 1174.2,876.6 1175.2,876.7 1176.3,876.9 1177.3,877.1 1178.4,877.8 1179.4,878.0 1180.4,878.1 1181.4,878.3 1182.4,878.1 1183.3,878.2 1184.3,878.4 1185.2,878.5 1186.1,878.0 1187.0,878.1 1188.2,878.4 1189.4,878.5 1190.5,878.0 1191.5,878.1 1192.5,878.2 1193.5,879.0 1194.5,879.1 1195.5,879.1 1196.4,879.5 1197.4,881.1 1198.4,879.6 1199.4,879.7 1200.4,879.3 1201.4,879.4 1202.5,880.1 1203.7,880.3 1204.9,880.5 1205.8,880.7 1206.6,880.9 1207.5,881.2 1208.4,881.9 1209.4,884.2 1210.3,882.4 1211.2,881.0 1212.2,882.8 1213.2,881.7 1214.2,882.0 1215.2,882.3 1216.1,882.7 1217.2,883.0 1218.2,883.4 1219.2,884.8 1220.2,885.2 1221.2,885.5 1222.2,885.8 1223.2,886.8 1224.2,887.1 1225.2,886.9 1226.2,887.2 1227.2,886.7 1228.2,886.9 1229.2,886.9 1230.2,887.1 1231.2,887.4 1232.2,887.6 1233.2,887.7 1234.1,887.9 1235.1,888.5 1236.0,888.7 1237.0,888.8 1238.0,889.0 1238.9,889.1 1239.9,887.0 1240.8,889.3 1241.8,889.4 1242.8,889.5 1243.8,889.6 1244.8,888.9 1245.8,890.5 1246.9,890.6 1247.9,890.7 1249.0,890.8 1250.1,890.8 1251.2,889.8 1252.3,889.9 1253.5,890.0 1254.4,891.2 1255.3,891.3 1256.2,891.3 1257.2,891.4 1258.1,888.4 1259.1,890.2 1260.0,890.3 1261.0,892.1 1262.0,892.1 1263.0,891.2 1264.0,891.2 1265.1,891.3 1266.1,891.3 1267.1,891.3 1268.1,891.4 1269.2,893.4 1270.2,891.6 1271.3,891.6 1272.3,891.6 1273.4,891.6 1274.4,892.5 1275.5,890.3 1276.5,888.7 1277.6,890.3 1278.7,890.4 1279.7,891.3 1280.7,891.3 1281.8,891.3 1282.8,891.8 1283.9,891.8 1284.9,891.8 1285.9,891.8 1286.9,891.5 1287.9,892.8 1288.9,891.5 1290.0,891.5 1291.0,891.7 1292.0,891.8 1293.0,891.8 1294.0,891.8 1295.0,891.8 1296.0,890.8 1297.0,890.8 1298.0,892.1 1299.0,890.8 1300.1,890.0 1301.1,890.0 1302.1,890.0 1303.1,890.0 1304.1,890.0 1305.1,890.0 1306.1,892.4 1307.1,892.4 1308.2,892.4 1309.2,891.0 1310.2,891.0 1311.2,891.0 1312.2,892.7 1313.3,892.7 1314.3,891.9 1315.3,891.9 1316.3,891.9 1317.4,891.8 1318.4,892.1 1319.4,890.2 1320.5,892.0 1321.5,892.0 1322.6,892.0 1323.8,892.0 1324.9,890.4 1326.1,890.3 1327.2,890.3 1328.4,892.2 1329.6,892.1 1330.8,892.1 1332.0,891.3 1333.1,891.2 1334.3,891.2 1335.5,891.2 1336.7,891.1 1337.8,892.0 1338.9,891.9 1340.1,891.9 1341.1,891.9 1342.2,891.8 1343.2,891.5 1344.3,891.5 1345.2,891.5 1346.2,890.3 1347.1,890.3 1347.9,890.3 1348.7,890.3 1349.5,890.2 1350.2,892.8 1350.9,892.3 1351.5,892.3 1352.0,892.3"/>
</g>
<rect x="138" y="39" width="1300.5" height="968.5" fill="none" stroke="#000" stroke-width="4.2"/>
<g stroke="#000" stroke-width="4.8"><line x1="155.5" y1="1007" x2="155.5" y2="1020.5"/><line x1="247.2" y1="1007" x2="247.2" y2="1031"/><line x1="338.9" y1="1007" x2="338.9" y2="1020.5"/><line x1="430.6" y1="1007" x2="430.6" y2="1031"/><line x1="522.3" y1="1007" x2="522.3" y2="1020.5"/><line x1="614.0" y1="1007" x2="614.0" y2="1031"/><line x1="705.7" y1="1007" x2="705.7" y2="1020.5"/><line x1="797.4" y1="1007" x2="797.4" y2="1031"/><line x1="889.1" y1="1007" x2="889.1" y2="1020.5"/><line x1="980.8" y1="1007" x2="980.8" y2="1031"/><line x1="1072.5" y1="1007" x2="1072.5" y2="1020.5"/><line x1="1164.2" y1="1007" x2="1164.2" y2="1031"/><line x1="1255.9" y1="1007" x2="1255.9" y2="1020.5"/><line x1="1347.6" y1="1007" x2="1347.6" y2="1031"/><line x1="1438.5" y1="1007" x2="1438.5" y2="1020.5"/></g>
<g class="sans tk"><g transform="translate(209.69,1077.5)"><text x="0.00 25.57 51.14" y="0">200</text></g><g transform="translate(393.09,1077.5)"><text x="0.00 25.57 51.14" y="0">400</text></g><g transform="translate(576.49,1077.5)"><text x="0.00 25.57 51.14" y="0">600</text></g><g transform="translate(759.89,1077.5)"><text x="0.00 25.57 51.14" y="0">800</text></g><g transform="translate(930.51,1077.5)"><text x="25.57 51.14 76.71" y="0">000</text><path vector-effect="non-scaling-stroke" d="M763 0L583 0L583 1102C540 1063 483 1024 413 984C343 945 280 915 224 895L224 1062C325 1107 413 1163 488 1226C563 1291 616 1353 648 1409L763 1409Z" transform="translate(0.00,0) scale(0.02148,-0.02148)"/></g><g transform="translate(1113.91,1077.5)"><text x="25.57 51.14 76.71" y="0">200</text><path vector-effect="non-scaling-stroke" d="M763 0L583 0L583 1102C540 1063 483 1024 413 984C343 945 280 915 224 895L224 1062C325 1107 413 1163 488 1226C563 1291 616 1353 648 1409L763 1409Z" transform="translate(0.00,0) scale(0.02148,-0.02148)"/></g><g transform="translate(1297.31,1077.5)"><text x="25.57 51.14 76.71" y="0">400</text><path vector-effect="non-scaling-stroke" d="M763 0L583 0L583 1102C540 1063 483 1024 413 984C343 945 280 915 224 895L224 1062C325 1107 413 1163 488 1226C563 1291 616 1353 648 1409L763 1409Z" transform="translate(0.00,0) scale(0.02148,-0.02148)"/></g></g>
<g class="sans pk"><g transform="translate(179.1,144.7) rotate(-90) scale(0.92,1)"><text x="25.67 51.34" y="0">09</text><path vector-effect="non-scaling-stroke" d="M763 0L583 0L583 1102C540 1063 483 1024 413 984C343 945 280 915 224 895L224 1062C325 1107 413 1163 488 1226C563 1291 616 1353 648 1409L763 1409Z" transform="translate(0.00,0) scale(0.02148,-0.02148)"/></g><g transform="translate(221.0,190.1) rotate(-90) scale(0.92,1)"><text x="25.67 51.34" y="0">40</text><path vector-effect="non-scaling-stroke" d="M763 0L583 0L583 1102C540 1063 483 1024 413 984C343 945 280 915 224 895L224 1062C325 1107 413 1163 488 1226C563 1291 616 1353 648 1409L763 1409Z" transform="translate(0.00,0) scale(0.02148,-0.02148)"/></g><g transform="translate(272.5,321.6) rotate(-90) scale(0.92,1)"><text x="0.00 51.34" y="0">22</text><path vector-effect="non-scaling-stroke" d="M763 0L583 0L583 1102C540 1063 483 1024 413 984C343 945 280 915 224 895L224 1062C325 1107 413 1163 488 1226C563 1291 616 1353 648 1409L763 1409Z" transform="translate(25.67,0) scale(0.02148,-0.02148)"/></g><g transform="translate(337.1,348.6) rotate(-90) scale(0.92,1)"><text x="0.00 25.67 51.34" y="0">276</text></g><g transform="translate(384.5,465.5) rotate(-90) scale(0.92,1)"><text x="0.00 51.34" y="0">30</text><path vector-effect="non-scaling-stroke" d="M763 0L583 0L583 1102C540 1063 483 1024 413 984C343 945 280 915 224 895L224 1062C325 1107 413 1163 488 1226C563 1291 616 1353 648 1409L763 1409Z" transform="translate(25.67,0) scale(0.02148,-0.02148)"/></g><g transform="translate(640.5,482.1) rotate(-90) scale(0.92,1)"><text x="0.00 51.34" y="0">60</text><path vector-effect="non-scaling-stroke" d="M763 0L583 0L583 1102C540 1063 483 1024 413 984C343 945 280 915 224 895L224 1062C325 1107 413 1163 488 1226C563 1291 616 1353 648 1409L763 1409Z" transform="translate(25.67,0) scale(0.02148,-0.02148)"/></g><g transform="translate(192.4,674.9) rotate(-90) scale(0.92,1)"><text x="25.67 51.34" y="0">20</text><path vector-effect="non-scaling-stroke" d="M763 0L583 0L583 1102C540 1063 483 1024 413 984C343 945 280 915 224 895L224 1062C325 1107 413 1163 488 1226C563 1291 616 1353 648 1409L763 1409Z" transform="translate(0.00,0) scale(0.02148,-0.02148)"/></g><g transform="translate(334.7,621.4) rotate(-90) scale(0.92,1)"><text x="0.00 25.67" y="0">28</text><path vector-effect="non-scaling-stroke" d="M763 0L583 0L583 1102C540 1063 483 1024 413 984C343 945 280 915 224 895L224 1062C325 1107 413 1163 488 1226C563 1291 616 1353 648 1409L763 1409Z" transform="translate(51.34,0) scale(0.02148,-0.02148)"/></g><g transform="translate(392.2,703.9) rotate(-90) scale(0.92,1)"><text x="0.00 25.67 51.34" y="0">329</text></g><g transform="translate(648.5,736.1) rotate(-90) scale(0.92,1)"><text x="0.00 51.34" y="0">64</text><path vector-effect="non-scaling-stroke" d="M763 0L583 0L583 1102C540 1063 483 1024 413 984C343 945 280 915 224 895L224 1062C325 1107 413 1163 488 1226C563 1291 616 1353 648 1409L763 1409Z" transform="translate(25.67,0) scale(0.02148,-0.02148)"/></g></g>
<g class="lab"><text x="1363.5 1378.3 1398.9" y="684.1">(a)</text><text x="1361.4 1376.7 1399.1" y="764.1">(b)</text><text x="1360.8 1376.9 1393.7" y="815.9">(c)</text><text x="1358.6 1372.8 1397" y="864.8">(d)</text><text x="1360.8 1377.5 1393.7" y="903.7">(e)</text></g>
<text class="serif" x="503.4 555.1 585.8 647.6 677.5 738 766.4 806.7 827.2 855.3 891.2 916.9 948.9 1045.6" y="1171">Ramanshift(cm)</text>
<ellipse cx="853.2" cy="1126.6" rx="2.9" ry="3.3" fill="#000"/>
<text class="serif" x="1011.1 1023.8" y="1129.5" style="font-size:43px">-1</text>
<text class="serif" style="font-size:74px" transform="translate(102.3,760) rotate(-90)" x="0.7 22.7 63.1 84.1 115.2 156.6 185.9 206.7 226.5 282.6 310.7 343 381.3 418.9 437.5">Intensity(a.u.)</text>
</g>
</svg>
</body></html>
